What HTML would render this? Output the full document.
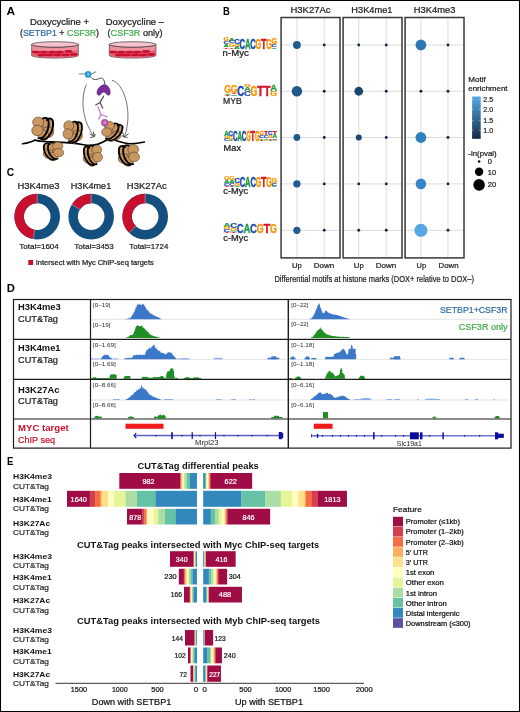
<!DOCTYPE html>
<html><head><meta charset="utf-8"><title>Figure</title>
<style>
html,body{margin:0;padding:0;background:#fff;}
body{width:520px;height:712px;overflow:hidden;font-family:'Liberation Sans', sans-serif;}
svg{display:block;font-family:"Liberation Sans",sans-serif;will-change:transform;}
</style></head><body>
<svg width="520" height="712" viewBox="0 0 520 712">
<rect x="0" y="0" width="520" height="712" fill="#fff"/>
<g id="pA"><text x="6.4" y="14.8" font-size="10.8" font-weight="bold" fill="#000" textLength="8.6" lengthAdjust="spacingAndGlyphs">A</text>
<text x="30" y="25" font-size="9" fill="#1a1a1a" stroke="#1a1a1a" stroke-width="0.22" textLength="59" lengthAdjust="spacingAndGlyphs">Doxycycline +</text>
<text x="20" y="36" font-size="9" fill="#1a1a1a" stroke="#1a1a1a" stroke-width="0.22" textLength="79" lengthAdjust="spacingAndGlyphs">(<tspan fill="#2e6da4" stroke="#2e6da4">SETBP1</tspan> + <tspan fill="#3fae49" stroke="#3fae49">CSF3R</tspan>)</text>
<text x="105.8" y="25" font-size="9" fill="#1a1a1a" stroke="#1a1a1a" stroke-width="0.22" textLength="58.2" lengthAdjust="spacingAndGlyphs">Doxycycline –</text>
<text x="107.6" y="36" font-size="9" fill="#1a1a1a" stroke="#1a1a1a" stroke-width="0.22" textLength="55" lengthAdjust="spacingAndGlyphs">(<tspan fill="#3fae49" stroke="#3fae49">CSF3R</tspan> only)</text>
<path d="M31.70,44.4 L31.70,55.4 A23.3,2.7 0 0 0 78.30,55.4 L78.30,44.4 A23.3,2.7 0 0 1 31.70,44.4 Z" fill="#ee8fa0" stroke="#3a3a3a" stroke-width="0.7"/>
<path d="M32.20,49.6 L32.20,55.3 A22.8,2.5 0 0 0 77.80,55.3 L77.80,49.6 A22.8,2.3 0 0 1 32.20,49.6 Z" fill="#e4617b"/>
<ellipse cx="36.00" cy="52.1" rx="4.1" ry="1.45" fill="#c8102e"/>
<ellipse cx="44.00" cy="52.1" rx="4.1" ry="1.45" fill="#c8102e"/>
<ellipse cx="52.20" cy="52.1" rx="4.1" ry="1.45" fill="#c8102e"/>
<ellipse cx="59.80" cy="52.1" rx="4.1" ry="1.45" fill="#c8102e"/>
<ellipse cx="68.50" cy="51.5" rx="4.1" ry="1.45" fill="#c8102e"/>
<ellipse cx="41.60" cy="54.9" rx="4.1" ry="1.45" fill="#c8102e"/>
<ellipse cx="49.00" cy="54.9" rx="4.1" ry="1.45" fill="#c8102e"/>
<ellipse cx="57.20" cy="54.9" rx="4.1" ry="1.45" fill="#c8102e"/>
<ellipse cx="65.40" cy="54.9" rx="4.1" ry="1.45" fill="#c8102e"/>
<ellipse cx="73.60" cy="54.5" rx="4.1" ry="1.45" fill="#c8102e"/>
<ellipse cx="55" cy="44.4" rx="23.3" ry="2.7" fill="#f6c3cc" stroke="#3a3a3a" stroke-width="0.7"/>
<path d="M109.30,44.4 L109.30,55.4 A23.3,2.7 0 0 0 155.90,55.4 L155.90,44.4 A23.3,2.7 0 0 1 109.30,44.4 Z" fill="#ee8fa0" stroke="#3a3a3a" stroke-width="0.7"/>
<path d="M109.80,49.6 L109.80,55.3 A22.8,2.5 0 0 0 155.40,55.3 L155.40,49.6 A22.8,2.3 0 0 1 109.80,49.6 Z" fill="#e4617b"/>
<ellipse cx="113.60" cy="52.1" rx="4.1" ry="1.45" fill="#c8102e"/>
<ellipse cx="121.60" cy="52.1" rx="4.1" ry="1.45" fill="#c8102e"/>
<ellipse cx="129.80" cy="52.1" rx="4.1" ry="1.45" fill="#c8102e"/>
<ellipse cx="137.40" cy="52.1" rx="4.1" ry="1.45" fill="#c8102e"/>
<ellipse cx="146.10" cy="51.5" rx="4.1" ry="1.45" fill="#c8102e"/>
<ellipse cx="119.20" cy="54.9" rx="4.1" ry="1.45" fill="#c8102e"/>
<ellipse cx="126.60" cy="54.9" rx="4.1" ry="1.45" fill="#c8102e"/>
<ellipse cx="134.80" cy="54.9" rx="4.1" ry="1.45" fill="#c8102e"/>
<ellipse cx="143.00" cy="54.9" rx="4.1" ry="1.45" fill="#c8102e"/>
<ellipse cx="151.20" cy="54.5" rx="4.1" ry="1.45" fill="#c8102e"/>
<ellipse cx="132.6" cy="44.4" rx="23.3" ry="2.7" fill="#f6c3cc" stroke="#3a3a3a" stroke-width="0.7"/>
<path d="M86.5,84.4 C81,96 81,118 93.2,135.2" fill="none" stroke="#3a3a3a" stroke-width="0.7"/>
<path d="M89.6,133.8 L94.2,136.6 L93.4,131.6 M90.2,137.6 L94.2,136.6 L95.4,134" fill="none" stroke="#3a3a3a" stroke-width="0.9"/>
<path d="M111.9,80.3 C124,83 133,112 124.8,135.6" fill="none" stroke="#3a3a3a" stroke-width="0.7"/>
<path d="M122.4,132 L124.3,137 L128.6,133.6 M127.6,137.4 L124.3,137 L121.8,135.6" fill="none" stroke="#3a3a3a" stroke-width="0.9"/>
<path d="M22.5,143.8 C28,143 32,141.8 35,140 C38,141.5 44,141.6 50,141.8 C55,142 60,142.6 66,142.6 C72,142.6 79,144 85,145 C89,145.6 93,145.4 97,144.4 C102,143 106,140.6 110,138 C112,136.6 114,135 115.5,133" fill="none" stroke="#000" stroke-width="1.6" stroke-linecap="round"/>
<path d="M106.5,135 C108,136.6 109,137.4 110,138 C113,139.8 115.5,140.6 118,141.3 C122,142.6 126,143.6 130,143.7 C135,143.8 140,143 144.4,142" fill="none" stroke="#000" stroke-width="1.6" stroke-linecap="round"/>
<g transform="translate(43.49,128.29) scale(1.140,1.071) rotate(0,-0.6,0)">
<circle cx="-0.5" cy="-0.5" r="5.6" fill="#c9975f" stroke="#3e3022" stroke-width="0.5"/>
<circle cx="3.4" cy="-4.6" r="5.0" fill="#c9975f" stroke="#3e3022" stroke-width="0.5"/>
<circle cx="4.0" cy="3.6" r="5.0" fill="#c9975f" stroke="#3e3022" stroke-width="0.5"/>
<circle cx="0.0" cy="6.6" r="4.8" fill="#c9975f" stroke="#3e3022" stroke-width="0.5"/>
<path d="M-1.5,10.2 C4,11.2 9.2,2 8.4,-5.8 C8,-9.6 4.6,-10 3,-7.6" fill="none" stroke="#000" stroke-width="1.7" stroke-linecap="round"/>
<path d="M-4.5,9.2 C1,10.4 5.4,1 4.4,-6.6 C4,-10.2 0,-10.6 -1.4,-8.4" fill="none" stroke="#000" stroke-width="1.7" stroke-linecap="round"/>
<circle cx="-4.6" cy="-5.6" r="4.9" fill="#c9975f" stroke="#3e3022" stroke-width="0.5"/>
<circle cx="-5.4" cy="2.0" r="4.9" fill="#c9975f" stroke="#3e3022" stroke-width="0.5"/>
</g>
<g transform="translate(73.41,131.80) scale(1.010,1.049) rotate(0,-0.6,0)">
<circle cx="-0.5" cy="-0.5" r="5.6" fill="#c9975f" stroke="#3e3022" stroke-width="0.5"/>
<circle cx="3.4" cy="-4.6" r="5.0" fill="#c9975f" stroke="#3e3022" stroke-width="0.5"/>
<circle cx="4.0" cy="3.6" r="5.0" fill="#c9975f" stroke="#3e3022" stroke-width="0.5"/>
<circle cx="0.0" cy="6.6" r="4.8" fill="#c9975f" stroke="#3e3022" stroke-width="0.5"/>
<path d="M-1.5,10.2 C4,11.2 9.2,2 8.4,-5.8 C8,-9.6 4.6,-10 3,-7.6" fill="none" stroke="#000" stroke-width="1.7" stroke-linecap="round"/>
<path d="M-4.5,9.2 C1,10.4 5.4,1 4.4,-6.6 C4,-10.2 0,-10.6 -1.4,-8.4" fill="none" stroke="#000" stroke-width="1.7" stroke-linecap="round"/>
<circle cx="-4.6" cy="-5.6" r="4.9" fill="#c9975f" stroke="#3e3022" stroke-width="0.5"/>
<circle cx="-5.4" cy="2.0" r="4.9" fill="#c9975f" stroke="#3e3022" stroke-width="0.5"/>
</g>
<g transform="translate(52.81,150.94) scale(-1.062,0.861) rotate(0,-0.6,0)">
<circle cx="-0.5" cy="-0.5" r="5.6" fill="#c9975f" stroke="#3e3022" stroke-width="0.5"/>
<circle cx="3.4" cy="-4.6" r="5.0" fill="#c9975f" stroke="#3e3022" stroke-width="0.5"/>
<circle cx="4.0" cy="3.6" r="5.0" fill="#c9975f" stroke="#3e3022" stroke-width="0.5"/>
<circle cx="0.0" cy="6.6" r="4.8" fill="#c9975f" stroke="#3e3022" stroke-width="0.5"/>
<path d="M-1.5,10.2 C4,11.2 9.2,2 8.4,-5.8 C8,-9.6 4.6,-10 3,-7.6" fill="none" stroke="#000" stroke-width="1.7" stroke-linecap="round"/>
<path d="M-4.5,9.2 C1,10.4 5.4,1 4.4,-6.6 C4,-10.2 0,-10.6 -1.4,-8.4" fill="none" stroke="#000" stroke-width="1.7" stroke-linecap="round"/>
<circle cx="-4.6" cy="-5.6" r="4.9" fill="#c9975f" stroke="#3e3022" stroke-width="0.5"/>
<circle cx="-5.4" cy="2.0" r="4.9" fill="#c9975f" stroke="#3e3022" stroke-width="0.5"/>
</g>
<g transform="translate(92.23,155.18) scale(-0.997,0.971) rotate(0,-0.6,0)">
<circle cx="-0.5" cy="-0.5" r="5.6" fill="#c9975f" stroke="#3e3022" stroke-width="0.5"/>
<circle cx="3.4" cy="-4.6" r="5.0" fill="#c9975f" stroke="#3e3022" stroke-width="0.5"/>
<circle cx="4.0" cy="3.6" r="5.0" fill="#c9975f" stroke="#3e3022" stroke-width="0.5"/>
<circle cx="0.0" cy="6.6" r="4.8" fill="#c9975f" stroke="#3e3022" stroke-width="0.5"/>
<path d="M-1.5,10.2 C4,11.2 9.2,2 8.4,-5.8 C8,-9.6 4.6,-10 3,-7.6" fill="none" stroke="#000" stroke-width="1.7" stroke-linecap="round"/>
<path d="M-4.5,9.2 C1,10.4 5.4,1 4.4,-6.6 C4,-10.2 0,-10.6 -1.4,-8.4" fill="none" stroke="#000" stroke-width="1.7" stroke-linecap="round"/>
<circle cx="-4.6" cy="-5.6" r="4.9" fill="#c9975f" stroke="#3e3022" stroke-width="0.5"/>
<circle cx="-5.4" cy="2.0" r="4.9" fill="#c9975f" stroke="#3e3022" stroke-width="0.5"/>
</g>
<g transform="translate(112.67,131.43) scale(1.036,0.883) rotate(14,-0.6,0)">
<circle cx="-0.5" cy="-0.5" r="5.6" fill="#c9975f" stroke="#3e3022" stroke-width="0.5"/>
<circle cx="3.4" cy="-4.6" r="5.0" fill="#c9975f" stroke="#3e3022" stroke-width="0.5"/>
<circle cx="4.0" cy="3.6" r="5.0" fill="#c9975f" stroke="#3e3022" stroke-width="0.5"/>
<circle cx="0.0" cy="6.6" r="4.8" fill="#c9975f" stroke="#3e3022" stroke-width="0.5"/>
<path d="M-1.5,10.2 C4,11.2 9.2,2 8.4,-5.8 C8,-9.6 4.6,-10 3,-7.6" fill="none" stroke="#000" stroke-width="1.7" stroke-linecap="round"/>
<path d="M-4.5,9.2 C1,10.4 5.4,1 4.4,-6.6 C4,-10.2 0,-10.6 -1.4,-8.4" fill="none" stroke="#000" stroke-width="1.7" stroke-linecap="round"/>
<circle cx="-4.6" cy="-5.6" r="4.9" fill="#c9975f" stroke="#3e3022" stroke-width="0.5"/>
<circle cx="-5.4" cy="2.0" r="4.9" fill="#c9975f" stroke="#3e3022" stroke-width="0.5"/>
</g>
<g transform="translate(128.16,154.93) scale(-1.101,0.993) rotate(0,-0.6,0)">
<circle cx="-0.5" cy="-0.5" r="5.6" fill="#c9975f" stroke="#3e3022" stroke-width="0.5"/>
<circle cx="3.4" cy="-4.6" r="5.0" fill="#c9975f" stroke="#3e3022" stroke-width="0.5"/>
<circle cx="4.0" cy="3.6" r="5.0" fill="#c9975f" stroke="#3e3022" stroke-width="0.5"/>
<circle cx="0.0" cy="6.6" r="4.8" fill="#c9975f" stroke="#3e3022" stroke-width="0.5"/>
<path d="M-1.5,10.2 C4,11.2 9.2,2 8.4,-5.8 C8,-9.6 4.6,-10 3,-7.6" fill="none" stroke="#000" stroke-width="1.7" stroke-linecap="round"/>
<path d="M-4.5,9.2 C1,10.4 5.4,1 4.4,-6.6 C4,-10.2 0,-10.6 -1.4,-8.4" fill="none" stroke="#000" stroke-width="1.7" stroke-linecap="round"/>
<circle cx="-4.6" cy="-5.6" r="4.9" fill="#c9975f" stroke="#3e3022" stroke-width="0.5"/>
<circle cx="-5.4" cy="2.0" r="4.9" fill="#c9975f" stroke="#3e3022" stroke-width="0.5"/>
</g>
<path d="M78.8,73.8 L85,73.9 M91,74.2 L96.3,71.6" stroke="#9a9a9a" stroke-width="1.2" fill="none"/>
<circle cx="88.1" cy="74.4" r="3.1" fill="#2a9bd6" stroke="#1b78ad" stroke-width="0.4"/>
<circle cx="88.3" cy="74.2" r="1.2" fill="#7cc8ee"/>
<path d="M90.6,76.9 C92.5,79.5 95,80 97.5,79.2 C100,78.3 102.5,77.2 103.6,79.5 C104.4,81 104.6,82.5 104.75,84" fill="none" stroke="#222" stroke-width="0.8"/>
<path d="M104.6,84.6 C100.5,85.2 97,89 97,92.8 C97,95.6 99.4,95.8 100.6,94.4 C101.6,93.2 102.4,92 103.6,92 C104.8,92 105.8,93.2 106.8,94.4 C108,95.8 110.2,95.4 110.2,92.6 C110.2,88.6 108,85.2 104.6,84.6 Z" fill="#7a2c9c" stroke="#3c1450" stroke-width="0.5"/>
<path d="M103.5,96.3 L100,102.5 L95.7,105 M100,102.5 L102.7,108" fill="none" stroke="#5a5a5a" stroke-width="1.4" stroke-linecap="round"/>
<path d="M98.1,107 L100.9,114.4 L98.8,119 M100.9,114.4 L107.2,116.9" fill="none" stroke="#c48fd2" stroke-width="1.5" stroke-linecap="round"/>
<circle cx="104.75" cy="122.75" r="3.4" fill="#c25fb2" stroke="#7d2f74" stroke-width="0.55"/>
<circle cx="104.9" cy="122.6" r="1.4" fill="#d786cb"/></g>
<g id="pB"><text x="223" y="14.6" font-size="10.5" font-weight="bold" fill="#000" textLength="6.8" lengthAdjust="spacingAndGlyphs">B</text>
<text x="290.5" y="13" font-size="8.7" fill="#1a1a1a" stroke="#1a1a1a" stroke-width="0.22" textLength="40" lengthAdjust="spacingAndGlyphs">H3K27Ac</text>
<line x1="296.9" y1="17.5" x2="296.9" y2="257.9" stroke="#d6d6d6" stroke-width="0.85"/>
<line x1="324.25" y1="17.5" x2="324.25" y2="257.9" stroke="#d6d6d6" stroke-width="0.85"/>
<line x1="281.1" y1="45" x2="340.0" y2="45" stroke="#d6d6d6" stroke-width="0.85"/>
<line x1="281.1" y1="91.25" x2="340.0" y2="91.25" stroke="#d6d6d6" stroke-width="0.85"/>
<line x1="281.1" y1="137.5" x2="340.0" y2="137.5" stroke="#d6d6d6" stroke-width="0.85"/>
<line x1="281.1" y1="183.9" x2="340.0" y2="183.9" stroke="#d6d6d6" stroke-width="0.85"/>
<line x1="281.1" y1="230.3" x2="340.0" y2="230.3" stroke="#d6d6d6" stroke-width="0.85"/>
<circle cx="296.9" cy="45" r="3.9" fill="#21598c"/>
<circle cx="324.25" cy="45" r="1.45" fill="#0f2747"/>
<circle cx="296.9" cy="91.25" r="5.2" fill="#21588b"/>
<circle cx="324.25" cy="91.25" r="1.45" fill="#0f2747"/>
<circle cx="296.9" cy="137.5" r="3.4" fill="#21598c"/>
<circle cx="324.25" cy="137.5" r="1.45" fill="#0f2747"/>
<circle cx="296.9" cy="183.9" r="3.6" fill="#22598c"/>
<circle cx="324.25" cy="183.9" r="1.45" fill="#0f2747"/>
<circle cx="296.9" cy="230.3" r="3.6" fill="#235b8e"/>
<circle cx="324.25" cy="230.3" r="1.45" fill="#0f2747"/>
<rect x="281.1" y="17.5" width="58.90" height="240.39999999999998" fill="none" stroke="#383838" stroke-width="1.5"/>
<text x="351.3" y="13" font-size="8.7" fill="#1a1a1a" stroke="#1a1a1a" stroke-width="0.22" textLength="41.2" lengthAdjust="spacingAndGlyphs">H3K4me1</text>
<line x1="358.75" y1="17.5" x2="358.75" y2="257.9" stroke="#d6d6d6" stroke-width="0.85"/>
<line x1="386.25" y1="17.5" x2="386.25" y2="257.9" stroke="#d6d6d6" stroke-width="0.85"/>
<line x1="343.1" y1="45" x2="402.0" y2="45" stroke="#d6d6d6" stroke-width="0.85"/>
<line x1="343.1" y1="91.25" x2="402.0" y2="91.25" stroke="#d6d6d6" stroke-width="0.85"/>
<line x1="343.1" y1="137.5" x2="402.0" y2="137.5" stroke="#d6d6d6" stroke-width="0.85"/>
<line x1="343.1" y1="183.9" x2="402.0" y2="183.9" stroke="#d6d6d6" stroke-width="0.85"/>
<line x1="343.1" y1="230.3" x2="402.0" y2="230.3" stroke="#d6d6d6" stroke-width="0.85"/>
<circle cx="358.75" cy="45" r="1.45" fill="#0f2747"/>
<circle cx="386.25" cy="45" r="1.45" fill="#0f2747"/>
<circle cx="358.75" cy="91.25" r="4.4" fill="#1a456e"/>
<circle cx="386.25" cy="91.25" r="1.45" fill="#0f2747"/>
<circle cx="358.75" cy="137.5" r="3.0" fill="#1a456e"/>
<circle cx="386.25" cy="137.5" r="1.45" fill="#0f2747"/>
<circle cx="358.75" cy="183.9" r="1.45" fill="#0f2747"/>
<circle cx="386.25" cy="183.9" r="1.45" fill="#0f2747"/>
<circle cx="358.75" cy="230.3" r="1.45" fill="#0f2747"/>
<circle cx="386.25" cy="230.3" r="1.45" fill="#0f2747"/>
<rect x="343.1" y="17.5" width="58.90" height="240.39999999999998" fill="none" stroke="#383838" stroke-width="1.5"/>
<text x="413.8" y="13" font-size="8.7" fill="#1a1a1a" stroke="#1a1a1a" stroke-width="0.22" textLength="41.7" lengthAdjust="spacingAndGlyphs">H3K4me3</text>
<line x1="420.9" y1="17.5" x2="420.9" y2="257.9" stroke="#d6d6d6" stroke-width="0.85"/>
<line x1="448" y1="17.5" x2="448" y2="257.9" stroke="#d6d6d6" stroke-width="0.85"/>
<line x1="405.1" y1="45" x2="464.0" y2="45" stroke="#d6d6d6" stroke-width="0.85"/>
<line x1="405.1" y1="91.25" x2="464.0" y2="91.25" stroke="#d6d6d6" stroke-width="0.85"/>
<line x1="405.1" y1="137.5" x2="464.0" y2="137.5" stroke="#d6d6d6" stroke-width="0.85"/>
<line x1="405.1" y1="183.9" x2="464.0" y2="183.9" stroke="#d6d6d6" stroke-width="0.85"/>
<line x1="405.1" y1="230.3" x2="464.0" y2="230.3" stroke="#d6d6d6" stroke-width="0.85"/>
<circle cx="420.9" cy="45" r="5.4" fill="#2d78b4"/>
<circle cx="448" cy="45" r="1.45" fill="#0f2747"/>
<circle cx="420.9" cy="91.25" r="1.45" fill="#0f2747"/>
<circle cx="448" cy="91.25" r="1.45" fill="#0f2747"/>
<circle cx="420.9" cy="137.5" r="5.4" fill="#3180bf"/>
<circle cx="448" cy="137.5" r="1.45" fill="#0f2747"/>
<circle cx="420.9" cy="183.9" r="5.3" fill="#3686c8"/>
<circle cx="448" cy="183.9" r="1.45" fill="#0f2747"/>
<circle cx="420.9" cy="230.3" r="6.5" fill="#56a7e6"/>
<circle cx="448" cy="230.3" r="1.45" fill="#0f2747"/>
<rect x="405.1" y="17.5" width="58.90" height="240.39999999999998" fill="none" stroke="#383838" stroke-width="1.5"/>
<text x="292" y="267.6" font-size="7.8" fill="#1a1a1a" stroke="#1a1a1a" stroke-width="0.22" textLength="9.8" lengthAdjust="spacingAndGlyphs">Up</text>
<text x="313.8" y="267.6" font-size="7.8" fill="#1a1a1a" stroke="#1a1a1a" stroke-width="0.22" textLength="20.5" lengthAdjust="spacingAndGlyphs">Down</text>
<text x="353.8" y="267.6" font-size="7.8" fill="#1a1a1a" stroke="#1a1a1a" stroke-width="0.22" textLength="10" lengthAdjust="spacingAndGlyphs">Up</text>
<text x="375.8" y="267.6" font-size="7.8" fill="#1a1a1a" stroke="#1a1a1a" stroke-width="0.22" textLength="20.5" lengthAdjust="spacingAndGlyphs">Down</text>
<text x="416.5" y="267.6" font-size="7.8" fill="#1a1a1a" stroke="#1a1a1a" stroke-width="0.22" textLength="9.6" lengthAdjust="spacingAndGlyphs">Up</text>
<text x="438.5" y="267.6" font-size="7.8" fill="#1a1a1a" stroke="#1a1a1a" stroke-width="0.22" textLength="20" lengthAdjust="spacingAndGlyphs">Down</text>
<text x="274.4" y="282" font-size="9.2" fill="#222" stroke="#222" stroke-width="0.22" textLength="199.6" lengthAdjust="spacingAndGlyphs">Differential motifs at histone marks (DOX+ relative to DOX–)</text>
<text transform="translate(226.36,41.48) scale(0.712,0.451)" font-size="10.0" font-weight="bold" text-anchor="middle" fill="#f39a0b" stroke="#f39a0b" stroke-width="0.45" stroke-linejoin="round" vector-effect="none">G</text>
<text transform="translate(226.36,43.89) scale(0.768,0.330)" font-size="10.0" font-weight="bold" text-anchor="middle" fill="#1f4fb4" stroke="#1f4fb4" stroke-width="0.42" stroke-linejoin="round" vector-effect="none">C</text>
<text transform="translate(226.36,46.96) scale(0.768,0.420)" font-size="10.0" font-weight="bold" text-anchor="middle" fill="#1e9e3c" stroke="#1e9e3c" stroke-width="0.42" stroke-linejoin="round" vector-effect="none">A</text>
<text transform="translate(226.36,48.60) scale(0.907,0.225)" font-size="10.0" font-weight="bold" text-anchor="middle" fill="#d8142a" stroke="#d8142a" stroke-width="0.35" stroke-linejoin="round" vector-effect="none">T</text>
<text transform="translate(231.69,40.74) scale(0.768,0.349)" font-size="10.0" font-weight="bold" text-anchor="middle" fill="#1e9e3c" stroke="#1e9e3c" stroke-width="0.42" stroke-linejoin="round" vector-effect="none">A</text>
<text transform="translate(231.69,43.28) scale(0.768,0.349)" font-size="10.0" font-weight="bold" text-anchor="middle" fill="#1f4fb4" stroke="#1f4fb4" stroke-width="0.42" stroke-linejoin="round" vector-effect="none">C</text>
<text transform="translate(231.69,46.98) scale(0.712,0.507)" font-size="10.0" font-weight="bold" text-anchor="middle" fill="#f39a0b" stroke="#f39a0b" stroke-width="0.45" stroke-linejoin="round" vector-effect="none">G</text>
<text transform="translate(231.69,48.60) scale(0.907,0.222)" font-size="10.0" font-weight="bold" text-anchor="middle" fill="#d8142a" stroke="#d8142a" stroke-width="0.35" stroke-linejoin="round" vector-effect="none">T</text>
<text transform="translate(237.02,43.67) scale(0.768,0.751)" font-size="10.0" font-weight="bold" text-anchor="middle" fill="#1f4fb4" stroke="#1f4fb4" stroke-width="0.42" stroke-linejoin="round" vector-effect="none">C</text>
<text transform="translate(237.02,46.74) scale(0.712,0.420)" font-size="10.0" font-weight="bold" text-anchor="middle" fill="#f39a0b" stroke="#f39a0b" stroke-width="0.45" stroke-linejoin="round" vector-effect="none">G</text>
<text transform="translate(237.02,48.60) scale(0.768,0.255)" font-size="10.0" font-weight="bold" text-anchor="middle" fill="#1e9e3c" stroke="#1e9e3c" stroke-width="0.42" stroke-linejoin="round" vector-effect="none">A</text>
<text transform="translate(242.35,48.60) scale(0.768,1.427)" font-size="10.0" font-weight="bold" text-anchor="middle" fill="#1f4fb4" stroke="#1f4fb4" stroke-width="0.42" stroke-linejoin="round" vector-effect="none">C</text>
<text transform="translate(247.68,48.60) scale(0.768,1.427)" font-size="10.0" font-weight="bold" text-anchor="middle" fill="#1e9e3c" stroke="#1e9e3c" stroke-width="0.42" stroke-linejoin="round" vector-effect="none">A</text>
<text transform="translate(253.01,48.60) scale(0.768,1.427)" font-size="10.0" font-weight="bold" text-anchor="middle" fill="#1f4fb4" stroke="#1f4fb4" stroke-width="0.42" stroke-linejoin="round" vector-effect="none">C</text>
<text transform="translate(258.35,48.60) scale(0.712,1.427)" font-size="10.0" font-weight="bold" text-anchor="middle" fill="#f39a0b" stroke="#f39a0b" stroke-width="0.45" stroke-linejoin="round" vector-effect="none">G</text>
<text transform="translate(263.68,48.60) scale(0.907,1.427)" font-size="10.0" font-weight="bold" text-anchor="middle" fill="#d8142a" stroke="#d8142a" stroke-width="0.35" stroke-linejoin="round" vector-effect="none">T</text>
<text transform="translate(269.00,48.60) scale(0.712,1.427)" font-size="10.0" font-weight="bold" text-anchor="middle" fill="#f39a0b" stroke="#f39a0b" stroke-width="0.45" stroke-linejoin="round" vector-effect="none">G</text>
<text transform="translate(274.34,44.35) scale(0.712,0.844)" font-size="10.0" font-weight="bold" text-anchor="middle" fill="#f39a0b" stroke="#f39a0b" stroke-width="0.45" stroke-linejoin="round" vector-effect="none">G</text>
<text transform="translate(274.34,46.81) scale(0.768,0.337)" font-size="10.0" font-weight="bold" text-anchor="middle" fill="#1f4fb4" stroke="#1f4fb4" stroke-width="0.42" stroke-linejoin="round" vector-effect="none">C</text>
<text transform="translate(274.34,48.60) scale(0.768,0.245)" font-size="10.0" font-weight="bold" text-anchor="middle" fill="#1e9e3c" stroke="#1e9e3c" stroke-width="0.42" stroke-linejoin="round" vector-effect="none">A</text>
<text x="222.6" y="56.2" font-size="8.6" fill="#1a1a1a" stroke="#1a1a1a" stroke-width="0.22" textLength="26.2" lengthAdjust="spacingAndGlyphs">n-Myc</text>
<text transform="translate(227.59,93.16) scale(0.881,1.174)" font-size="10.0" font-weight="bold" text-anchor="middle" fill="#f39a0b" stroke="#f39a0b" stroke-width="0.36" stroke-linejoin="round" vector-effect="none">G</text>
<text transform="translate(227.59,94.62) scale(0.949,0.201)" font-size="10.0" font-weight="bold" text-anchor="middle" fill="#1e9e3c" stroke="#1e9e3c" stroke-width="0.34" stroke-linejoin="round" vector-effect="none">A</text>
<text transform="translate(227.59,95.60) scale(1.121,0.134)" font-size="10.0" font-weight="bold" text-anchor="middle" fill="#d8142a" stroke="#d8142a" stroke-width="0.29" stroke-linejoin="round" vector-effect="none">T</text>
<text transform="translate(234.18,92.65) scale(0.881,1.104)" font-size="10.0" font-weight="bold" text-anchor="middle" fill="#f39a0b" stroke="#f39a0b" stroke-width="0.36" stroke-linejoin="round" vector-effect="none">G</text>
<text transform="translate(234.18,94.26) scale(1.121,0.221)" font-size="10.0" font-weight="bold" text-anchor="middle" fill="#d8142a" stroke="#d8142a" stroke-width="0.29" stroke-linejoin="round" vector-effect="none">T</text>
<text transform="translate(234.18,95.60) scale(0.949,0.184)" font-size="10.0" font-weight="bold" text-anchor="middle" fill="#1e9e3c" stroke="#1e9e3c" stroke-width="0.34" stroke-linejoin="round" vector-effect="none">A</text>
<text transform="translate(240.77,95.60) scale(0.949,1.509)" font-size="10.0" font-weight="bold" text-anchor="middle" fill="#1f4fb4" stroke="#1f4fb4" stroke-width="0.34" stroke-linejoin="round" vector-effect="none">C</text>
<text transform="translate(247.36,87.49) scale(0.881,0.397)" font-size="10.0" font-weight="bold" text-anchor="middle" fill="#f39a0b" stroke="#f39a0b" stroke-width="0.36" stroke-linejoin="round" vector-effect="none">G</text>
<text transform="translate(247.36,90.97) scale(0.949,0.476)" font-size="10.0" font-weight="bold" text-anchor="middle" fill="#1e9e3c" stroke="#1e9e3c" stroke-width="0.34" stroke-linejoin="round" vector-effect="none">A</text>
<text transform="translate(247.36,95.60) scale(0.949,0.635)" font-size="10.0" font-weight="bold" text-anchor="middle" fill="#1f4fb4" stroke="#1f4fb4" stroke-width="0.34" stroke-linejoin="round" vector-effect="none">C</text>
<text transform="translate(253.94,95.60) scale(0.881,1.509)" font-size="10.0" font-weight="bold" text-anchor="middle" fill="#f39a0b" stroke="#f39a0b" stroke-width="0.36" stroke-linejoin="round" vector-effect="none">G</text>
<text transform="translate(260.53,95.60) scale(1.121,1.509)" font-size="10.0" font-weight="bold" text-anchor="middle" fill="#d8142a" stroke="#d8142a" stroke-width="0.29" stroke-linejoin="round" vector-effect="none">T</text>
<text transform="translate(267.12,95.60) scale(1.121,1.509)" font-size="10.0" font-weight="bold" text-anchor="middle" fill="#d8142a" stroke="#d8142a" stroke-width="0.29" stroke-linejoin="round" vector-effect="none">T</text>
<text transform="translate(273.71,90.58) scale(0.949,0.820)" font-size="10.0" font-weight="bold" text-anchor="middle" fill="#1e9e3c" stroke="#1e9e3c" stroke-width="0.34" stroke-linejoin="round" vector-effect="none">A</text>
<text transform="translate(273.71,95.60) scale(0.881,0.689)" font-size="10.0" font-weight="bold" text-anchor="middle" fill="#f39a0b" stroke="#f39a0b" stroke-width="0.36" stroke-linejoin="round" vector-effect="none">G</text>
<text x="223" y="104" font-size="9.2" fill="#1a1a1a" stroke="#1a1a1a" stroke-width="0.22" textLength="18.8" lengthAdjust="spacingAndGlyphs">MYB</text>
<text transform="translate(226.50,135.95) scale(0.633,0.652)" font-size="10.0" font-weight="bold" text-anchor="middle" fill="#1e9e3c" stroke="#1e9e3c" stroke-width="0.51" stroke-linejoin="round" vector-effect="none">A</text>
<text transform="translate(226.50,138.92) scale(0.587,0.407)" font-size="10.0" font-weight="bold" text-anchor="middle" fill="#f39a0b" stroke="#f39a0b" stroke-width="0.55" stroke-linejoin="round" vector-effect="none">G</text>
<text transform="translate(226.50,141.30) scale(0.633,0.326)" font-size="10.0" font-weight="bold" text-anchor="middle" fill="#1f4fb4" stroke="#1f4fb4" stroke-width="0.51" stroke-linejoin="round" vector-effect="none">C</text>
<text transform="translate(230.89,135.95) scale(0.633,0.652)" font-size="10.0" font-weight="bold" text-anchor="middle" fill="#1f4fb4" stroke="#1f4fb4" stroke-width="0.51" stroke-linejoin="round" vector-effect="none">C</text>
<text transform="translate(230.89,139.52) scale(0.587,0.489)" font-size="10.0" font-weight="bold" text-anchor="middle" fill="#f39a0b" stroke="#f39a0b" stroke-width="0.55" stroke-linejoin="round" vector-effect="none">G</text>
<text transform="translate(230.89,141.30) scale(0.633,0.244)" font-size="10.0" font-weight="bold" text-anchor="middle" fill="#1e9e3c" stroke="#1e9e3c" stroke-width="0.51" stroke-linejoin="round" vector-effect="none">A</text>
<text transform="translate(235.28,141.30) scale(0.633,1.385)" font-size="10.0" font-weight="bold" text-anchor="middle" fill="#1f4fb4" stroke="#1f4fb4" stroke-width="0.51" stroke-linejoin="round" vector-effect="none">C</text>
<text transform="translate(239.67,141.30) scale(0.633,1.385)" font-size="10.0" font-weight="bold" text-anchor="middle" fill="#1e9e3c" stroke="#1e9e3c" stroke-width="0.51" stroke-linejoin="round" vector-effect="none">A</text>
<text transform="translate(244.06,141.30) scale(0.633,1.385)" font-size="10.0" font-weight="bold" text-anchor="middle" fill="#1f4fb4" stroke="#1f4fb4" stroke-width="0.51" stroke-linejoin="round" vector-effect="none">C</text>
<text transform="translate(248.45,141.30) scale(0.587,1.385)" font-size="10.0" font-weight="bold" text-anchor="middle" fill="#f39a0b" stroke="#f39a0b" stroke-width="0.55" stroke-linejoin="round" vector-effect="none">G</text>
<text transform="translate(252.85,141.30) scale(0.748,1.385)" font-size="10.0" font-weight="bold" text-anchor="middle" fill="#d8142a" stroke="#d8142a" stroke-width="0.43" stroke-linejoin="round" vector-effect="none">T</text>
<text transform="translate(257.24,141.30) scale(0.587,1.385)" font-size="10.0" font-weight="bold" text-anchor="middle" fill="#f39a0b" stroke="#f39a0b" stroke-width="0.55" stroke-linejoin="round" vector-effect="none">G</text>
<text transform="translate(261.63,135.26) scale(0.587,0.557)" font-size="10.0" font-weight="bold" text-anchor="middle" fill="#f39a0b" stroke="#f39a0b" stroke-width="0.55" stroke-linejoin="round" vector-effect="none">G</text>
<text transform="translate(261.63,138.17) scale(0.633,0.398)" font-size="10.0" font-weight="bold" text-anchor="middle" fill="#1f4fb4" stroke="#1f4fb4" stroke-width="0.51" stroke-linejoin="round" vector-effect="none">C</text>
<text transform="translate(261.63,139.91) scale(0.633,0.239)" font-size="10.0" font-weight="bold" text-anchor="middle" fill="#1e9e3c" stroke="#1e9e3c" stroke-width="0.51" stroke-linejoin="round" vector-effect="none">A</text>
<text transform="translate(261.63,141.30) scale(0.748,0.191)" font-size="10.0" font-weight="bold" text-anchor="middle" fill="#d8142a" stroke="#d8142a" stroke-width="0.43" stroke-linejoin="round" vector-effect="none">T</text>
<text transform="translate(266.02,135.26) scale(0.748,0.557)" font-size="10.0" font-weight="bold" text-anchor="middle" fill="#d8142a" stroke="#d8142a" stroke-width="0.43" stroke-linejoin="round" vector-effect="none">T</text>
<text transform="translate(266.02,138.17) scale(0.633,0.398)" font-size="10.0" font-weight="bold" text-anchor="middle" fill="#1f4fb4" stroke="#1f4fb4" stroke-width="0.51" stroke-linejoin="round" vector-effect="none">C</text>
<text transform="translate(266.02,139.91) scale(0.633,0.239)" font-size="10.0" font-weight="bold" text-anchor="middle" fill="#1e9e3c" stroke="#1e9e3c" stroke-width="0.51" stroke-linejoin="round" vector-effect="none">A</text>
<text transform="translate(266.02,141.30) scale(0.587,0.191)" font-size="10.0" font-weight="bold" text-anchor="middle" fill="#f39a0b" stroke="#f39a0b" stroke-width="0.55" stroke-linejoin="round" vector-effect="none">G</text>
<text transform="translate(270.41,135.26) scale(0.633,0.557)" font-size="10.0" font-weight="bold" text-anchor="middle" fill="#1f4fb4" stroke="#1f4fb4" stroke-width="0.51" stroke-linejoin="round" vector-effect="none">C</text>
<text transform="translate(270.41,138.17) scale(0.587,0.398)" font-size="10.0" font-weight="bold" text-anchor="middle" fill="#f39a0b" stroke="#f39a0b" stroke-width="0.55" stroke-linejoin="round" vector-effect="none">G</text>
<text transform="translate(270.41,139.91) scale(0.748,0.239)" font-size="10.0" font-weight="bold" text-anchor="middle" fill="#d8142a" stroke="#d8142a" stroke-width="0.43" stroke-linejoin="round" vector-effect="none">T</text>
<text transform="translate(270.41,141.30) scale(0.633,0.191)" font-size="10.0" font-weight="bold" text-anchor="middle" fill="#1e9e3c" stroke="#1e9e3c" stroke-width="0.51" stroke-linejoin="round" vector-effect="none">A</text>
<text transform="translate(274.80,135.13) scale(0.748,0.539)" font-size="10.0" font-weight="bold" text-anchor="middle" fill="#d8142a" stroke="#d8142a" stroke-width="0.43" stroke-linejoin="round" vector-effect="none">T</text>
<text transform="translate(274.80,138.49) scale(0.633,0.462)" font-size="10.0" font-weight="bold" text-anchor="middle" fill="#1e9e3c" stroke="#1e9e3c" stroke-width="0.51" stroke-linejoin="round" vector-effect="none">A</text>
<text transform="translate(274.80,140.18) scale(0.633,0.231)" font-size="10.0" font-weight="bold" text-anchor="middle" fill="#1f4fb4" stroke="#1f4fb4" stroke-width="0.51" stroke-linejoin="round" vector-effect="none">C</text>
<text transform="translate(274.80,141.30) scale(0.587,0.154)" font-size="10.0" font-weight="bold" text-anchor="middle" fill="#f39a0b" stroke="#f39a0b" stroke-width="0.55" stroke-linejoin="round" vector-effect="none">G</text>
<text x="223.6" y="150.9" font-size="8.6" fill="#1a1a1a" stroke="#1a1a1a" stroke-width="0.22" textLength="17.4" lengthAdjust="spacingAndGlyphs">Max</text>
<text transform="translate(226.65,180.46) scale(0.708,0.447)" font-size="10.0" font-weight="bold" text-anchor="middle" fill="#f39a0b" stroke="#f39a0b" stroke-width="0.45" stroke-linejoin="round" vector-effect="none">G</text>
<text transform="translate(226.65,183.18) scale(0.763,0.373)" font-size="10.0" font-weight="bold" text-anchor="middle" fill="#1e9e3c" stroke="#1e9e3c" stroke-width="0.42" stroke-linejoin="round" vector-effect="none">A</text>
<text transform="translate(226.65,185.57) scale(0.763,0.328)" font-size="10.0" font-weight="bold" text-anchor="middle" fill="#1f4fb4" stroke="#1f4fb4" stroke-width="0.42" stroke-linejoin="round" vector-effect="none">C</text>
<text transform="translate(226.65,187.20) scale(0.902,0.224)" font-size="10.0" font-weight="bold" text-anchor="middle" fill="#d8142a" stroke="#d8142a" stroke-width="0.35" stroke-linejoin="round" vector-effect="none">T</text>
<text transform="translate(231.95,180.46) scale(0.708,0.447)" font-size="10.0" font-weight="bold" text-anchor="middle" fill="#f39a0b" stroke="#f39a0b" stroke-width="0.45" stroke-linejoin="round" vector-effect="none">G</text>
<text transform="translate(231.95,183.18) scale(0.763,0.373)" font-size="10.0" font-weight="bold" text-anchor="middle" fill="#1e9e3c" stroke="#1e9e3c" stroke-width="0.42" stroke-linejoin="round" vector-effect="none">A</text>
<text transform="translate(231.95,185.57) scale(0.763,0.328)" font-size="10.0" font-weight="bold" text-anchor="middle" fill="#1f4fb4" stroke="#1f4fb4" stroke-width="0.42" stroke-linejoin="round" vector-effect="none">C</text>
<text transform="translate(231.95,187.20) scale(0.902,0.224)" font-size="10.0" font-weight="bold" text-anchor="middle" fill="#d8142a" stroke="#d8142a" stroke-width="0.35" stroke-linejoin="round" vector-effect="none">T</text>
<text transform="translate(237.25,182.58) scale(0.763,0.737)" font-size="10.0" font-weight="bold" text-anchor="middle" fill="#1f4fb4" stroke="#1f4fb4" stroke-width="0.42" stroke-linejoin="round" vector-effect="none">C</text>
<text transform="translate(237.25,185.59) scale(0.708,0.413)" font-size="10.0" font-weight="bold" text-anchor="middle" fill="#f39a0b" stroke="#f39a0b" stroke-width="0.45" stroke-linejoin="round" vector-effect="none">G</text>
<text transform="translate(237.25,187.20) scale(0.763,0.221)" font-size="10.0" font-weight="bold" text-anchor="middle" fill="#1e9e3c" stroke="#1e9e3c" stroke-width="0.42" stroke-linejoin="round" vector-effect="none">A</text>
<text transform="translate(242.55,187.20) scale(0.763,1.372)" font-size="10.0" font-weight="bold" text-anchor="middle" fill="#1f4fb4" stroke="#1f4fb4" stroke-width="0.42" stroke-linejoin="round" vector-effect="none">C</text>
<text transform="translate(247.85,187.20) scale(0.763,1.372)" font-size="10.0" font-weight="bold" text-anchor="middle" fill="#1e9e3c" stroke="#1e9e3c" stroke-width="0.42" stroke-linejoin="round" vector-effect="none">A</text>
<text transform="translate(253.15,187.20) scale(0.763,1.372)" font-size="10.0" font-weight="bold" text-anchor="middle" fill="#1f4fb4" stroke="#1f4fb4" stroke-width="0.42" stroke-linejoin="round" vector-effect="none">C</text>
<text transform="translate(258.45,187.20) scale(0.708,1.372)" font-size="10.0" font-weight="bold" text-anchor="middle" fill="#f39a0b" stroke="#f39a0b" stroke-width="0.45" stroke-linejoin="round" vector-effect="none">G</text>
<text transform="translate(263.75,187.20) scale(0.902,1.372)" font-size="10.0" font-weight="bold" text-anchor="middle" fill="#d8142a" stroke="#d8142a" stroke-width="0.35" stroke-linejoin="round" vector-effect="none">T</text>
<text transform="translate(269.05,187.20) scale(0.708,1.372)" font-size="10.0" font-weight="bold" text-anchor="middle" fill="#f39a0b" stroke="#f39a0b" stroke-width="0.45" stroke-linejoin="round" vector-effect="none">G</text>
<text transform="translate(274.35,182.88) scale(0.708,0.779)" font-size="10.0" font-weight="bold" text-anchor="middle" fill="#f39a0b" stroke="#f39a0b" stroke-width="0.45" stroke-linejoin="round" vector-effect="none">G</text>
<text transform="translate(274.35,186.06) scale(0.763,0.436)" font-size="10.0" font-weight="bold" text-anchor="middle" fill="#1f4fb4" stroke="#1f4fb4" stroke-width="0.42" stroke-linejoin="round" vector-effect="none">C</text>
<text transform="translate(274.35,187.20) scale(0.763,0.156)" font-size="10.0" font-weight="bold" text-anchor="middle" fill="#1e9e3c" stroke="#1e9e3c" stroke-width="0.42" stroke-linejoin="round" vector-effect="none">A</text>
<text x="223.3" y="194.4" font-size="8.6" fill="#1a1a1a" stroke="#1a1a1a" stroke-width="0.22" textLength="24.8" lengthAdjust="spacingAndGlyphs">c-Myc</text>
<text transform="translate(227.02,226.81) scale(0.956,0.495)" font-size="10.0" font-weight="bold" text-anchor="middle" fill="#1e9e3c" stroke="#1e9e3c" stroke-width="0.33" stroke-linejoin="round" vector-effect="none">A</text>
<text transform="translate(227.02,229.39) scale(0.887,0.354)" font-size="10.0" font-weight="bold" text-anchor="middle" fill="#f39a0b" stroke="#f39a0b" stroke-width="0.36" stroke-linejoin="round" vector-effect="none">G</text>
<text transform="translate(227.02,231.66) scale(0.956,0.311)" font-size="10.0" font-weight="bold" text-anchor="middle" fill="#1f4fb4" stroke="#1f4fb4" stroke-width="0.33" stroke-linejoin="round" vector-effect="none">C</text>
<text transform="translate(227.02,232.90) scale(1.130,0.170)" font-size="10.0" font-weight="bold" text-anchor="middle" fill="#d8142a" stroke="#d8142a" stroke-width="0.28" stroke-linejoin="round" vector-effect="none">T</text>
<text transform="translate(233.66,228.36) scale(0.956,0.708)" font-size="10.0" font-weight="bold" text-anchor="middle" fill="#1f4fb4" stroke="#1f4fb4" stroke-width="0.33" stroke-linejoin="round" vector-effect="none">C</text>
<text transform="translate(233.66,230.63) scale(0.887,0.311)" font-size="10.0" font-weight="bold" text-anchor="middle" fill="#f39a0b" stroke="#f39a0b" stroke-width="0.36" stroke-linejoin="round" vector-effect="none">G</text>
<text transform="translate(233.66,231.87) scale(0.956,0.170)" font-size="10.0" font-weight="bold" text-anchor="middle" fill="#1e9e3c" stroke="#1e9e3c" stroke-width="0.33" stroke-linejoin="round" vector-effect="none">A</text>
<text transform="translate(233.66,232.90) scale(1.130,0.142)" font-size="10.0" font-weight="bold" text-anchor="middle" fill="#d8142a" stroke="#d8142a" stroke-width="0.28" stroke-linejoin="round" vector-effect="none">T</text>
<text transform="translate(240.29,232.90) scale(0.956,1.331)" font-size="10.0" font-weight="bold" text-anchor="middle" fill="#1f4fb4" stroke="#1f4fb4" stroke-width="0.33" stroke-linejoin="round" vector-effect="none">C</text>
<text transform="translate(246.93,232.90) scale(0.956,1.331)" font-size="10.0" font-weight="bold" text-anchor="middle" fill="#1e9e3c" stroke="#1e9e3c" stroke-width="0.33" stroke-linejoin="round" vector-effect="none">A</text>
<text transform="translate(253.57,232.90) scale(0.956,1.331)" font-size="10.0" font-weight="bold" text-anchor="middle" fill="#1f4fb4" stroke="#1f4fb4" stroke-width="0.33" stroke-linejoin="round" vector-effect="none">C</text>
<text transform="translate(260.21,232.90) scale(0.887,1.331)" font-size="10.0" font-weight="bold" text-anchor="middle" fill="#f39a0b" stroke="#f39a0b" stroke-width="0.36" stroke-linejoin="round" vector-effect="none">G</text>
<text transform="translate(266.84,232.90) scale(1.130,1.331)" font-size="10.0" font-weight="bold" text-anchor="middle" fill="#d8142a" stroke="#d8142a" stroke-width="0.28" stroke-linejoin="round" vector-effect="none">T</text>
<text transform="translate(273.48,232.90) scale(0.887,1.331)" font-size="10.0" font-weight="bold" text-anchor="middle" fill="#f39a0b" stroke="#f39a0b" stroke-width="0.36" stroke-linejoin="round" vector-effect="none">G</text>
<text x="223.3" y="241" font-size="8.6" fill="#1a1a1a" stroke="#1a1a1a" stroke-width="0.22" textLength="24.8" lengthAdjust="spacingAndGlyphs">c-Myc</text>
<text x="468.3" y="81.8" font-size="7.8" fill="#1a1a1a" stroke="#1a1a1a" stroke-width="0.22" textLength="17.5" lengthAdjust="spacingAndGlyphs">Motif</text>
<text x="468.3" y="90.8" font-size="7.8" fill="#1a1a1a" stroke="#1a1a1a" stroke-width="0.22" textLength="39.2" lengthAdjust="spacingAndGlyphs">enrichment</text>
<defs><linearGradient id="cb" x1="0" y1="0" x2="0" y2="1"><stop offset="0" stop-color="#56a9ea"/><stop offset="1" stop-color="#132b43"/></linearGradient></defs>
<rect x="472.1" y="96.5" width="8.6" height="42.3" fill="url(#cb)"/>
<text x="483.3" y="102.2" font-size="7.6" fill="#1a1a1a" stroke="#1a1a1a" stroke-width="0.22" textLength="9.8" lengthAdjust="spacingAndGlyphs">2.5</text>
<path d="M472.1,99.5 h1.7 M480.7,99.5 h-1.7" stroke="#fff" stroke-width="0.5" opacity="0.8"/>
<text x="483.3" y="112.0" font-size="7.6" fill="#1a1a1a" stroke="#1a1a1a" stroke-width="0.22" textLength="9.8" lengthAdjust="spacingAndGlyphs">2.0</text>
<path d="M472.1,109.3 h1.7 M480.7,109.3 h-1.7" stroke="#fff" stroke-width="0.5" opacity="0.8"/>
<text x="483.3" y="123.4" font-size="7.6" fill="#1a1a1a" stroke="#1a1a1a" stroke-width="0.22" textLength="9.8" lengthAdjust="spacingAndGlyphs">1.5</text>
<path d="M472.1,120.7 h1.7 M480.7,120.7 h-1.7" stroke="#fff" stroke-width="0.5" opacity="0.8"/>
<text x="483.3" y="132.7" font-size="7.6" fill="#1a1a1a" stroke="#1a1a1a" stroke-width="0.22" textLength="9.8" lengthAdjust="spacingAndGlyphs">1.0</text>
<path d="M472.1,130 h1.7 M480.7,130 h-1.7" stroke="#fff" stroke-width="0.5" opacity="0.8"/>
<text x="468.3" y="155.5" font-size="7.8" fill="#1a1a1a" stroke="#1a1a1a" stroke-width="0.22" textLength="28.4" lengthAdjust="spacingAndGlyphs">-ln(pval)</text>
<circle cx="479.1" cy="161.6" r="1.25" fill="#000"/>
<circle cx="479.1" cy="171.8" r="4.2" fill="#000"/>
<circle cx="479.1" cy="184.9" r="5.8" fill="#000"/>
<text x="487.8" y="163.8" font-size="7.6" fill="#1a1a1a" stroke="#1a1a1a" stroke-width="0.22" textLength="4.2" lengthAdjust="spacingAndGlyphs">0</text>
<text x="487.8" y="174.8" font-size="7.6" fill="#1a1a1a" stroke="#1a1a1a" stroke-width="0.22" textLength="8.3" lengthAdjust="spacingAndGlyphs">10</text>
<text x="487.8" y="187" font-size="7.6" fill="#1a1a1a" stroke="#1a1a1a" stroke-width="0.22" textLength="8.3" lengthAdjust="spacingAndGlyphs">20</text></g>
<g id="pC"><text x="6.8" y="175.5" font-size="10.5" font-weight="bold" fill="#000" textLength="7.4" lengthAdjust="spacingAndGlyphs">C</text>
<text x="17.5" y="188.8" font-size="9" fill="#1a1a1a" stroke="#1a1a1a" stroke-width="0.22" textLength="42" lengthAdjust="spacingAndGlyphs">H3K4me3</text>
<text x="70.8" y="188.8" font-size="9" fill="#1a1a1a" stroke="#1a1a1a" stroke-width="0.22" textLength="40.4" lengthAdjust="spacingAndGlyphs">H3K4me1</text>
<text x="126.8" y="188.8" font-size="9" fill="#1a1a1a" stroke="#1a1a1a" stroke-width="0.22" textLength="40" lengthAdjust="spacingAndGlyphs">H3K27Ac</text>
<circle cx="37.2" cy="216.6" r="18.05" fill="none" stroke="#14507f" stroke-width="9.5"/>
<path d="M37.20,193.80 A22.8,22.8 0 0 0 33.07,239.02 L34.79,229.68 A13.3,13.3 0 0 1 37.20,203.30 Z" fill="#c8102e"/>
<path d="M37.20,193.80 L37.20,203.30 M33.07,239.02 L34.79,229.68" stroke="#fff" stroke-width="0.35"/>
<circle cx="91.2" cy="216.6" r="18.05" fill="none" stroke="#14507f" stroke-width="9.5"/>
<path d="M91.20,193.80 A22.8,22.8 0 0 0 71.95,204.38 L79.97,209.47 A13.3,13.3 0 0 1 91.20,203.30 Z" fill="#c8102e"/>
<path d="M91.20,193.80 L91.20,203.30 M71.95,204.38 L79.97,209.47" stroke="#fff" stroke-width="0.35"/>
<circle cx="145.2" cy="216.6" r="18.05" fill="none" stroke="#14507f" stroke-width="9.5"/>
<path d="M145.20,193.80 A22.8,22.8 0 0 0 129.18,232.82 L135.85,226.06 A13.3,13.3 0 0 1 145.20,203.30 Z" fill="#c8102e"/>
<path d="M145.20,193.80 L145.20,203.30 M129.18,232.82 L135.85,226.06" stroke="#fff" stroke-width="0.35"/>
<text x="19.3" y="249.3" font-size="8" fill="#1a1a1a" stroke="#1a1a1a" stroke-width="0.22" textLength="39.5" lengthAdjust="spacingAndGlyphs">Total=1604</text>
<text x="74.3" y="249.3" font-size="8" fill="#1a1a1a" stroke="#1a1a1a" stroke-width="0.22" textLength="39.5" lengthAdjust="spacingAndGlyphs">Total=3453</text>
<text x="129.3" y="249.3" font-size="8" fill="#1a1a1a" stroke="#1a1a1a" stroke-width="0.22" textLength="39" lengthAdjust="spacingAndGlyphs">Total=1724</text>
<rect x="28.30" y="260.00" width="4.80" height="5.00" fill="#c8102e"/>
<text x="35.8" y="264.6" font-size="7.5" fill="#1a1a1a" stroke="#1a1a1a" stroke-width="0.22" textLength="118" lengthAdjust="spacingAndGlyphs">Intersect with Myc ChIP-seq targets</text></g>
<g id="pD"><text x="6.8" y="291.8" font-size="10.5" font-weight="bold" fill="#000" textLength="8.2" lengthAdjust="spacingAndGlyphs">D</text>
<line x1="90.5" y1="319.3" x2="286.3" y2="319.3" stroke="#cfcfcf" stroke-width="0.6"/>
<line x1="288.3" y1="319.3" x2="508.5" y2="319.3" stroke="#cfcfcf" stroke-width="0.6"/>
<line x1="90.5" y1="359.4" x2="286.3" y2="359.4" stroke="#cfcfcf" stroke-width="0.6"/>
<line x1="288.3" y1="359.4" x2="508.5" y2="359.4" stroke="#cfcfcf" stroke-width="0.6"/>
<line x1="90.5" y1="400" x2="286.3" y2="400" stroke="#cfcfcf" stroke-width="0.6"/>
<line x1="288.3" y1="400" x2="508.5" y2="400" stroke="#cfcfcf" stroke-width="0.6"/>
<path d="M123.60,319.30 L123.60,319.25 L124.30,319.25 L124.30,319.16 L125.00,319.16 L125.00,319.06 L125.70,319.06 L125.70,318.96 L126.40,318.96 L126.40,318.87 L127.10,318.87 L127.10,318.80 L127.80,318.80 L127.80,318.68 L128.50,318.68 L128.50,318.36 L129.20,318.36 L129.20,318.17 L129.90,318.17 L129.90,317.93 L130.60,317.93 L130.60,317.10 L131.30,317.10 L131.30,316.28 L132.00,316.28 L132.00,315.07 L132.70,315.07 L132.70,314.01 L133.40,314.01 L133.40,312.51 L134.10,312.51 L134.10,311.48 L134.80,311.48 L134.80,309.50 L135.50,309.50 L135.50,307.63 L136.20,307.63 L136.20,306.57 L136.90,306.57 L136.90,304.88 L137.60,304.88 L137.60,303.82 L138.30,303.82 L138.30,304.84 L139.00,304.84 L139.00,303.99 L139.70,303.99 L139.70,304.44 L140.40,304.44 L140.40,304.89 L141.10,304.89 L141.10,305.02 L141.80,305.02 L141.80,303.60 L142.50,303.60 L142.50,304.46 L143.20,304.46 L143.20,304.36 L143.90,304.36 L143.90,305.21 L144.60,305.21 L144.60,306.55 L145.30,306.55 L145.30,307.46 L146.00,307.46 L146.00,309.17 L146.70,309.17 L146.70,309.57 L147.40,309.57 L147.40,310.60 L148.10,310.60 L148.10,310.90 L148.80,310.90 L148.80,311.67 L149.50,311.67 L149.50,312.92 L150.20,312.92 L150.20,313.55 L150.90,313.55 L150.90,313.91 L151.60,313.91 L151.60,313.93 L152.30,313.93 L152.30,314.62 L153.00,314.62 L153.00,314.92 L153.70,314.92 L153.70,315.40 L154.40,315.40 L154.40,315.67 L155.10,315.67 L155.10,316.06 L155.80,316.06 L155.80,316.41 L156.50,316.41 L156.50,316.67 L157.20,316.67 L157.20,317.00 L157.90,317.00 L157.90,317.27 L158.60,317.27 L158.60,317.65 L159.30,317.65 L159.30,318.02 L160.00,318.02 L160.00,318.44 L160.70,318.44 L160.70,318.85 L161.40,318.85 L161.40,319.27 L161.80,319.27 L161.80,319.30 Z" fill="#3b78c9"/>
<path d="M124.90,338.10 L124.90,337.99 L125.60,337.99 L125.60,337.78 L126.30,337.78 L126.30,337.54 L127.00,337.54 L127.00,337.34 L127.70,337.34 L127.70,337.11 L128.40,337.11 L128.40,336.52 L129.10,336.52 L129.10,335.83 L129.80,335.83 L129.80,335.33 L130.50,335.33 L130.50,334.98 L131.20,334.98 L131.20,335.06 L131.90,335.06 L131.90,335.05 L132.60,335.05 L132.60,334.30 L133.30,334.30 L133.30,332.91 L134.00,332.91 L134.00,331.18 L134.70,331.18 L134.70,329.33 L135.40,329.33 L135.40,327.32 L136.10,327.32 L136.10,326.23 L136.80,326.23 L136.80,325.55 L137.50,325.55 L137.50,324.88 L138.20,324.88 L138.20,326.02 L138.90,326.02 L138.90,326.29 L139.60,326.29 L139.60,326.29 L140.30,326.29 L140.30,325.91 L141.00,325.91 L141.00,325.44 L141.70,325.44 L141.70,325.80 L142.40,325.80 L142.40,327.46 L143.10,327.46 L143.10,327.42 L143.80,327.42 L143.80,328.05 L144.50,328.05 L144.50,328.94 L145.20,328.94 L145.20,329.98 L145.90,329.98 L145.90,330.37 L146.60,330.37 L146.60,331.40 L147.30,331.40 L147.30,331.44 L148.00,331.44 L148.00,332.34 L148.70,332.34 L148.70,333.37 L149.40,333.37 L149.40,334.30 L150.10,334.30 L150.10,334.54 L150.80,334.54 L150.80,335.01 L151.50,335.01 L151.50,335.24 L152.20,335.24 L152.20,335.59 L152.90,335.59 L152.90,335.96 L153.60,335.96 L153.60,336.16 L154.30,336.16 L154.30,336.29 L155.00,336.29 L155.00,336.50 L155.70,336.50 L155.70,336.72 L156.40,336.72 L156.40,336.87 L157.10,336.87 L157.10,337.02 L157.80,337.02 L157.80,337.34 L158.50,337.34 L158.50,337.57 L159.20,337.57 L159.20,337.77 L159.90,337.77 L159.90,338.02 L160.50,338.02 L160.50,338.10 Z" fill="#1f8f24"/>
<rect x="90.80" y="358.40" width="9.20" height="0.90" fill="#8fb0e3"/>
<rect x="113.00" y="358.40" width="5.00" height="0.90" fill="#8fb0e3"/>
<rect x="176.80" y="358.40" width="11.20" height="0.90" fill="#8fb0e3"/>
<rect x="181.00" y="358.40" width="9.00" height="0.90" fill="#8fb0e3"/>
<rect x="213.80" y="357.80" width="8.70" height="1.50" fill="#8fb0e3"/>
<path d="M100.50,359.30 L100.50,358.73 L101.25,358.73 L101.25,357.55 L102.00,357.55 L102.00,356.62 L102.75,356.62 L102.75,355.87 L103.50,355.87 L103.50,355.39 L104.25,355.39 L104.25,354.56 L105.00,354.56 L105.00,355.26 L105.75,355.26 L105.75,354.89 L106.50,354.89 L106.50,354.49 L107.25,354.49 L107.25,354.90 L108.00,354.90 L108.00,355.11 L108.75,355.11 L108.75,356.51 L109.50,356.51 L109.50,356.99 L110.25,356.99 L110.25,357.66 L111.00,357.66 L111.00,358.10 L111.75,358.10 L111.75,358.65 L112.50,358.65 L112.50,359.22 L113.00,359.22 L113.00,359.30 Z" fill="#3b78c9"/>
<path d="M124.00,359.30 L124.00,358.92 L124.60,358.92 L124.60,358.15 L125.20,358.15 L125.20,358.08 L125.80,358.08 L125.80,358.12 L126.40,358.12 L126.40,358.16 L127.00,358.16 L127.00,357.97 L127.60,357.97 L127.60,357.99 L128.20,357.99 L128.20,357.89 L128.80,357.89 L128.80,357.97 L129.40,357.97 L129.40,357.84 L130.00,357.84 L130.00,357.95 L130.60,357.95 L130.60,357.78 L131.20,357.78 L131.20,357.77 L131.80,357.77 L131.80,357.84 L132.40,357.84 L132.40,356.78 L133.00,356.78 L133.00,355.13 L133.60,355.13 L133.60,355.48 L134.20,355.48 L134.20,355.13 L134.80,355.13 L134.80,354.87 L135.40,354.87 L135.40,355.27 L136.00,355.27 L136.00,354.77 L136.60,354.77 L136.60,354.81 L137.20,354.81 L137.20,354.62 L137.80,354.62 L137.80,355.02 L138.40,355.02 L138.40,355.19 L139.00,355.19 L139.00,354.53 L139.60,354.53 L139.60,354.53 L140.20,354.53 L140.20,354.85 L140.80,354.85 L140.80,355.17 L141.40,355.17 L141.40,355.07 L142.00,355.07 L142.00,354.68 L142.60,354.68 L142.60,354.99 L143.20,354.99 L143.20,354.39 L143.80,354.39 L143.80,354.72 L144.40,354.72 L144.40,355.07 L145.00,355.07 L145.00,353.58 L145.60,353.58 L145.60,351.86 L146.20,351.86 L146.20,350.15 L146.80,350.15 L146.80,349.65 L147.40,349.65 L147.40,349.86 L148.00,349.86 L148.00,349.10 L148.60,349.10 L148.60,348.47 L149.20,348.47 L149.20,347.84 L149.80,347.84 L149.80,347.08 L150.40,347.08 L150.40,348.87 L151.00,348.87 L151.00,347.75 L151.60,347.75 L151.60,346.44 L152.20,346.44 L152.20,346.33 L152.80,346.33 L152.80,344.64 L153.40,344.64 L153.40,345.81 L154.00,345.81 L154.00,344.45 L154.60,344.45 L154.60,346.33 L155.20,346.33 L155.20,348.22 L155.80,348.22 L155.80,347.53 L156.40,347.53 L156.40,348.91 L157.00,348.91 L157.00,349.72 L157.60,349.72 L157.60,349.73 L158.20,349.73 L158.20,350.87 L158.80,350.87 L158.80,351.21 L159.40,351.21 L159.40,350.63 L160.00,350.63 L160.00,351.42 L160.60,351.42 L160.60,352.91 L161.20,352.91 L161.20,352.12 L161.80,352.12 L161.80,353.37 L162.40,353.37 L162.40,353.19 L163.00,353.19 L163.00,352.73 L163.60,352.73 L163.60,353.36 L164.20,353.36 L164.20,354.01 L164.80,354.01 L164.80,354.23 L165.40,354.23 L165.40,354.22 L166.00,354.22 L166.00,353.93 L166.60,353.93 L166.60,352.26 L167.20,352.26 L167.20,353.27 L167.80,353.27 L167.80,352.63 L168.40,352.63 L168.40,352.03 L169.00,352.03 L169.00,352.52 L169.60,352.52 L169.60,351.87 L170.20,351.87 L170.20,353.01 L170.80,353.01 L170.80,352.31 L171.40,352.31 L171.40,353.23 L172.00,353.23 L172.00,354.26 L172.60,354.26 L172.60,354.85 L173.20,354.85 L173.20,355.84 L173.80,355.84 L173.80,356.21 L174.40,356.21 L174.40,356.86 L175.00,356.86 L175.00,357.59 L175.60,357.59 L175.60,358.27 L176.20,358.27 L176.20,358.94 L176.80,358.94 L176.80,359.30 Z" fill="#3b78c9"/>
<rect x="267.50" y="357.70" width="11.80" height="1.60" fill="#3b78c9"/>
<rect x="271.30" y="356.30" width="5.00" height="3.00" fill="#3b78c9"/>
<rect x="91.00" y="377.90" width="9.00" height="0.90" fill="#1f8f24"/>
<rect x="93.00" y="377.30" width="3.00" height="1.50" fill="#1f8f24"/>
<rect x="100.00" y="378.00" width="9.50" height="0.80" fill="#1f8f24"/>
<rect x="141.80" y="376.90" width="6.20" height="1.90" fill="#1f8f24"/>
<rect x="148.00" y="377.70" width="5.00" height="1.10" fill="#1f8f24"/>
<rect x="153.00" y="377.10" width="5.00" height="1.70" fill="#1f8f24"/>
<rect x="158.00" y="376.90" width="6.00" height="1.90" fill="#1f8f24"/>
<rect x="160.50" y="376.00" width="2.50" height="2.80" fill="#1f8f24"/>
<rect x="164.00" y="377.80" width="2.20" height="1.00" fill="#1f8f24"/>
<rect x="174.60" y="377.90" width="3.40" height="0.90" fill="#1f8f24"/>
<rect x="183.80" y="378.00" width="17.50" height="0.80" fill="#1f8f24"/>
<rect x="184.50" y="377.60" width="5.50" height="1.20" fill="#1f8f24"/>
<rect x="186.00" y="377.20" width="2.50" height="1.60" fill="#1f8f24"/>
<rect x="193.50" y="377.40" width="5.50" height="1.40" fill="#1f8f24"/>
<path d="M109.50,378.80 L109.50,376.21 L110.10,376.21 L110.10,374.75 L110.70,374.75 L110.70,374.33 L111.30,374.33 L111.30,374.40 L111.90,374.40 L111.90,374.52 L112.50,374.52 L112.50,374.20 L113.10,374.20 L113.10,374.18 L113.70,374.18 L113.70,374.33 L114.30,374.33 L114.30,374.32 L114.90,374.32 L114.90,374.45 L115.50,374.45 L115.50,374.75 L116.10,374.75 L116.10,374.93 L116.70,374.93 L116.70,378.80 L117.00,378.80 L117.00,378.80 Z" fill="#1f8f24"/>
<path d="M123.80,378.80 L123.80,376.71 L124.40,376.71 L124.40,376.27 L125.00,376.27 L125.00,376.23 L125.60,376.23 L125.60,375.69 L126.20,375.69 L126.20,376.06 L126.80,376.06 L126.80,376.11 L127.40,376.11 L127.40,375.88 L128.00,375.88 L128.00,376.04 L128.60,376.04 L128.60,375.81 L129.20,375.81 L129.20,376.12 L129.80,376.12 L129.80,376.35 L130.40,376.35 L130.40,378.80 L130.60,378.80 L130.60,378.80 Z" fill="#1f8f24"/>
<path d="M166.20,378.80 L166.20,374.11 L166.80,374.11 L166.80,371.93 L167.40,371.93 L167.40,371.26 L168.00,371.26 L168.00,371.45 L168.60,371.45 L168.60,370.93 L169.20,370.93 L169.20,370.93 L169.80,370.93 L169.80,369.27 L170.40,369.27 L170.40,368.87 L171.00,368.87 L171.00,368.45 L171.60,368.45 L171.60,368.15 L172.20,368.15 L172.20,368.53 L172.80,368.53 L172.80,368.42 L173.40,368.42 L173.40,370.80 L174.00,370.80 L174.00,375.92 L174.60,375.92 L174.60,378.80 Z" fill="#1f8f24"/>
<rect x="113.00" y="399.00" width="6.80" height="1.00" fill="#8fb0e3"/>
<rect x="164.00" y="399.00" width="9.00" height="1.00" fill="#8fb0e3"/>
<rect x="216.30" y="399.00" width="5.00" height="1.00" fill="#8fb0e3"/>
<rect x="231.30" y="399.00" width="4.70" height="1.00" fill="#8fb0e3"/>
<rect x="249.50" y="399.00" width="2.00" height="1.00" fill="#8fb0e3"/>
<rect x="252.50" y="399.00" width="2.50" height="1.00" fill="#8fb0e3"/>
<path d="M125.00,400.00 L125.00,399.88 L125.50,399.88 L125.50,399.60 L126.00,399.60 L126.00,399.41 L126.50,399.41 L126.50,399.10 L127.00,399.10 L127.00,398.91 L127.50,398.91 L127.50,398.56 L128.00,398.56 L128.00,398.02 L128.50,398.02 L128.50,397.93 L129.00,397.93 L129.00,397.44 L129.50,397.44 L129.50,397.19 L130.00,397.19 L130.00,396.77 L130.50,396.77 L130.50,396.25 L131.00,396.25 L131.00,395.96 L131.50,395.96 L131.50,395.00 L132.00,395.00 L132.00,395.09 L132.50,395.09 L132.50,394.49 L133.00,394.49 L133.00,394.23 L133.50,394.23 L133.50,393.50 L134.00,393.50 L134.00,392.86 L134.50,392.86 L134.50,391.75 L135.00,391.75 L135.00,391.91 L135.50,391.91 L135.50,391.79 L136.00,391.79 L136.00,391.19 L136.50,391.19 L136.50,389.75 L137.00,389.75 L137.00,390.85 L137.50,390.85 L137.50,389.64 L138.00,389.64 L138.00,389.71 L138.50,389.71 L138.50,388.89 L139.00,388.89 L139.00,389.13 L139.50,389.13 L139.50,388.16 L140.00,388.16 L140.00,388.19 L140.50,388.19 L140.50,387.57 L141.00,387.57 L141.00,386.01 L141.50,386.01 L141.50,384.98 L142.00,384.98 L142.00,387.18 L142.50,387.18 L142.50,388.48 L143.00,388.48 L143.00,387.16 L143.50,387.16 L143.50,388.43 L144.00,388.43 L144.00,389.35 L144.50,389.35 L144.50,388.42 L145.00,388.42 L145.00,389.43 L145.50,389.43 L145.50,389.57 L146.00,389.57 L146.00,389.72 L146.50,389.72 L146.50,391.15 L147.00,391.15 L147.00,391.69 L147.50,391.69 L147.50,391.69 L148.00,391.69 L148.00,393.23 L148.50,393.23 L148.50,393.16 L149.00,393.16 L149.00,394.44 L149.50,394.44 L149.50,394.53 L150.00,394.53 L150.00,394.97 L150.50,394.97 L150.50,395.04 L151.00,395.04 L151.00,395.38 L151.50,395.38 L151.50,395.87 L152.00,395.87 L152.00,396.31 L152.50,396.31 L152.50,396.58 L153.00,396.58 L153.00,396.59 L153.50,396.59 L153.50,396.82 L154.00,396.82 L154.00,397.24 L154.50,397.24 L154.50,397.08 L155.00,397.08 L155.00,397.47 L155.50,397.47 L155.50,397.62 L156.00,397.62 L156.00,397.98 L156.50,397.98 L156.50,398.13 L157.00,398.13 L157.00,398.36 L157.50,398.36 L157.50,398.42 L158.00,398.42 L158.00,398.60 L158.50,398.60 L158.50,398.73 L159.00,398.73 L159.00,398.93 L159.50,398.93 L159.50,399.07 L160.00,399.07 L160.00,399.29 L160.50,399.29 L160.50,399.57 L161.00,399.57 L161.00,399.77 L161.50,399.77 L161.50,399.98 L161.80,399.98 L161.80,400.00 Z" fill="#3b78c9"/>
<rect x="94.30" y="416.60" width="7.50" height="1.60" fill="#1f8f24"/>
<rect x="95.50" y="415.90" width="3.00" height="2.30" fill="#1f8f24"/>
<rect x="128.00" y="417.00" width="6.00" height="1.20" fill="#1f8f24"/>
<rect x="129.50" y="416.40" width="2.50" height="1.80" fill="#1f8f24"/>
<rect x="154.00" y="416.60" width="12.00" height="1.60" fill="#1f8f24"/>
<rect x="158.00" y="415.40" width="7.00" height="2.80" fill="#1f8f24"/>
<rect x="159.50" y="414.60" width="1.50" height="3.60" fill="#1f8f24"/>
<rect x="162.50" y="414.80" width="1.50" height="3.40" fill="#1f8f24"/>
<rect x="271.30" y="417.00" width="11.20" height="1.20" fill="#1f8f24"/>
<rect x="274.00" y="415.80" width="5.00" height="2.40" fill="#1f8f24"/>
<path d="M309.50,319.30 L309.50,319.09 L310.20,319.09 L310.20,318.67 L310.90,318.67 L310.90,318.20 L311.60,318.20 L311.60,317.84 L312.30,317.84 L312.30,316.82 L313.00,316.82 L313.00,315.74 L313.70,315.74 L313.70,314.86 L314.40,314.86 L314.40,313.04 L315.10,313.04 L315.10,311.29 L315.80,311.29 L315.80,309.21 L316.50,309.21 L316.50,308.21 L317.20,308.21 L317.20,305.80 L317.90,305.80 L317.90,305.13 L318.60,305.13 L318.60,303.36 L319.30,303.36 L319.30,304.21 L320.00,304.21 L320.00,307.10 L320.70,307.10 L320.70,308.66 L321.40,308.66 L321.40,311.10 L322.10,311.10 L322.10,312.51 L322.80,312.51 L322.80,313.28 L323.50,313.28 L323.50,312.98 L324.20,312.98 L324.20,312.45 L324.90,312.45 L324.90,311.04 L325.60,311.04 L325.60,310.59 L326.30,310.59 L326.30,310.93 L327.00,310.93 L327.00,311.75 L327.70,311.75 L327.70,312.54 L328.40,312.54 L328.40,312.73 L329.10,312.73 L329.10,313.17 L329.80,313.17 L329.80,313.24 L330.50,313.24 L330.50,313.81 L331.20,313.81 L331.20,313.96 L331.90,313.96 L331.90,314.23 L332.60,314.23 L332.60,314.32 L333.30,314.32 L333.30,314.63 L334.00,314.63 L334.00,314.87 L334.70,314.87 L334.70,314.59 L335.40,314.59 L335.40,314.70 L336.10,314.70 L336.10,314.89 L336.80,314.89 L336.80,315.07 L337.50,315.07 L337.50,315.37 L338.20,315.37 L338.20,315.61 L338.90,315.61 L338.90,315.81 L339.60,315.81 L339.60,316.12 L340.30,316.12 L340.30,316.08 L341.00,316.08 L341.00,316.48 L341.70,316.48 L341.70,316.64 L342.40,316.64 L342.40,317.07 L343.10,317.07 L343.10,317.23 L343.80,317.23 L343.80,317.57 L344.50,317.57 L344.50,317.91 L345.20,317.91 L345.20,318.02 L345.90,318.02 L345.90,318.07 L346.60,318.07 L346.60,318.28 L347.30,318.28 L347.30,318.40 L348.00,318.40 L348.00,318.66 L348.70,318.66 L348.70,318.89 L349.40,318.89 L349.40,319.07 L350.10,319.07 L350.10,319.28 L350.50,319.28 L350.50,319.30 Z" fill="#3b78c9"/>
<path d="M309.90,338.10 L309.90,337.94 L310.60,337.94 L310.60,337.60 L311.30,337.60 L311.30,337.27 L312.00,337.27 L312.00,337.03 L312.70,337.03 L312.70,336.41 L313.40,336.41 L313.40,335.55 L314.10,335.55 L314.10,334.82 L314.80,334.82 L314.80,333.70 L315.50,333.70 L315.50,332.74 L316.20,332.74 L316.20,331.78 L316.90,331.78 L316.90,330.80 L317.60,330.80 L317.60,329.91 L318.30,329.91 L318.30,329.89 L319.00,329.89 L319.00,328.91 L319.70,328.91 L319.70,328.86 L320.40,328.86 L320.40,327.45 L321.10,327.45 L321.10,329.39 L321.80,329.39 L321.80,329.33 L322.50,329.33 L322.50,331.08 L323.20,331.08 L323.20,331.38 L323.90,331.38 L323.90,332.38 L324.60,332.38 L324.60,333.02 L325.30,333.02 L325.30,333.35 L326.00,333.35 L326.00,334.19 L326.70,334.19 L326.70,334.48 L327.40,334.48 L327.40,334.38 L328.10,334.38 L328.10,334.86 L328.80,334.86 L328.80,335.28 L329.50,335.28 L329.50,335.18 L330.20,335.18 L330.20,335.45 L330.90,335.45 L330.90,335.83 L331.60,335.83 L331.60,335.82 L332.30,335.82 L332.30,336.00 L333.00,336.00 L333.00,336.04 L333.70,336.04 L333.70,336.04 L334.40,336.04 L334.40,336.26 L335.10,336.26 L335.10,336.19 L335.80,336.19 L335.80,336.43 L336.50,336.43 L336.50,336.46 L337.20,336.46 L337.20,336.38 L337.90,336.38 L337.90,336.55 L338.60,336.55 L338.60,336.61 L339.30,336.61 L339.30,336.65 L340.00,336.65 L340.00,336.73 L340.70,336.73 L340.70,336.78 L341.40,336.78 L341.40,336.89 L342.10,336.89 L342.10,336.81 L342.80,336.81 L342.80,336.81 L343.50,336.81 L343.50,336.85 L344.20,336.85 L344.20,336.95 L344.90,336.95 L344.90,337.01 L345.60,337.01 L345.60,336.96 L346.30,336.96 L346.30,336.86 L347.00,336.86 L347.00,336.81 L347.70,336.81 L347.70,336.89 L348.40,336.89 L348.40,337.22 L349.10,337.22 L349.10,337.56 L349.80,337.56 L349.80,337.92 L350.50,337.92 L350.50,338.10 Z" fill="#1f8f24"/>
<rect x="290.00" y="357.70" width="5.50" height="1.60" fill="#3b78c9"/>
<rect x="291.50" y="356.50" width="2.50" height="2.80" fill="#3b78c9"/>
<rect x="304.50" y="357.70" width="5.50" height="1.60" fill="#3b78c9"/>
<rect x="306.00" y="356.50" width="3.00" height="2.80" fill="#3b78c9"/>
<rect x="311.30" y="358.00" width="5.00" height="1.30" fill="#3b78c9"/>
<rect x="390.00" y="357.70" width="10.50" height="1.60" fill="#3b78c9"/>
<rect x="394.00" y="356.20" width="6.00" height="3.10" fill="#3b78c9"/>
<rect x="449.30" y="357.80" width="4.50" height="1.50" fill="#3b78c9"/>
<rect x="459.50" y="357.80" width="5.00" height="1.50" fill="#3b78c9"/>
<path d="M325.00,359.30 L325.00,357.84 L325.60,357.84 L325.60,356.74 L326.20,356.74 L326.20,356.74 L326.80,356.74 L326.80,356.70 L327.40,356.70 L327.40,356.89 L328.00,356.89 L328.00,356.88 L328.60,356.88 L328.60,356.91 L329.20,356.91 L329.20,356.88 L329.80,356.88 L329.80,356.73 L330.40,356.73 L330.40,356.91 L331.00,356.91 L331.00,356.79 L331.60,356.79 L331.60,356.89 L332.20,356.89 L332.20,356.86 L332.80,356.86 L332.80,356.82 L333.40,356.82 L333.40,355.66 L334.00,355.66 L334.00,354.05 L334.60,354.05 L334.60,354.08 L335.20,354.08 L335.20,353.56 L335.80,353.56 L335.80,353.35 L336.40,353.35 L336.40,352.75 L337.00,352.75 L337.00,352.73 L337.60,352.73 L337.60,352.68 L338.20,352.68 L338.20,352.60 L338.80,352.60 L338.80,352.51 L339.40,352.51 L339.40,351.71 L340.00,351.71 L340.00,351.23 L340.60,351.23 L340.60,351.15 L341.20,351.15 L341.20,349.92 L341.80,349.92 L341.80,349.72 L342.40,349.72 L342.40,348.90 L343.00,348.90 L343.00,348.85 L343.60,348.85 L343.60,348.92 L344.20,348.92 L344.20,349.79 L344.80,349.79 L344.80,350.64 L345.40,350.64 L345.40,352.33 L346.00,352.33 L346.00,354.02 L346.60,354.02 L346.60,354.33 L347.20,354.33 L347.20,354.68 L347.80,354.68 L347.80,352.78 L348.40,352.78 L348.40,349.19 L349.00,349.19 L349.00,348.73 L349.60,348.73 L349.60,348.49 L350.20,348.49 L350.20,349.26 L350.80,349.26 L350.80,345.77 L351.40,345.77 L351.40,344.65 L352.00,344.65 L352.00,346.08 L352.60,346.08 L352.60,348.57 L353.20,348.57 L353.20,348.77 L353.80,348.77 L353.80,349.11 L354.40,349.11 L354.40,348.85 L355.00,348.85 L355.00,348.67 L355.60,348.67 L355.60,354.12 L356.20,354.12 L356.20,359.30 L356.30,359.30 L356.30,359.30 Z" fill="#3b78c9"/>
<rect x="288.60" y="378.00" width="3.40" height="0.80" fill="#1f8f24"/>
<rect x="295.00" y="377.60" width="6.30" height="1.20" fill="#1f8f24"/>
<rect x="296.50" y="376.60" width="3.50" height="2.20" fill="#1f8f24"/>
<rect x="358.80" y="377.20" width="6.20" height="1.60" fill="#1f8f24"/>
<rect x="360.00" y="375.80" width="4.00" height="3.00" fill="#1f8f24"/>
<path d="M324.90,378.80 L324.90,378.02 L325.50,378.02 L325.50,376.29 L326.10,376.29 L326.10,374.93 L326.70,374.93 L326.70,373.54 L327.30,373.54 L327.30,372.85 L327.90,372.85 L327.90,372.16 L328.50,372.16 L328.50,371.03 L329.10,371.03 L329.10,370.75 L329.70,370.75 L329.70,371.28 L330.30,371.28 L330.30,371.85 L330.90,371.85 L330.90,372.63 L331.50,372.63 L331.50,372.19 L332.10,372.19 L332.10,372.55 L332.70,372.55 L332.70,373.23 L333.30,373.23 L333.30,374.08 L333.90,374.08 L333.90,375.08 L334.50,375.08 L334.50,375.82 L335.10,375.82 L335.10,376.36 L335.70,376.36 L335.70,376.48 L336.30,376.48 L336.30,376.08 L336.90,376.08 L336.90,375.38 L337.50,375.38 L337.50,375.20 L338.10,375.20 L338.10,375.28 L338.70,375.28 L338.70,374.93 L339.30,374.93 L339.30,373.60 L339.90,373.60 L339.90,369.98 L340.50,369.98 L340.50,368.23 L341.10,368.23 L341.10,368.27 L341.70,368.27 L341.70,369.43 L342.30,369.43 L342.30,372.97 L342.90,372.97 L342.90,373.19 L343.50,373.19 L343.50,374.13 L344.10,374.13 L344.10,374.65 L344.70,374.65 L344.70,377.61 L345.20,377.61 L345.20,378.80 Z" fill="#1f8f24"/>
<rect x="353.80" y="399.10" width="6.20" height="0.90" fill="#8fb0e3"/>
<rect x="360.00" y="398.50" width="11.30" height="1.50" fill="#8fb0e3"/>
<rect x="363.00" y="398.00" width="6.00" height="2.00" fill="#8fb0e3"/>
<rect x="386.30" y="399.00" width="5.70" height="1.00" fill="#8fb0e3"/>
<rect x="394.00" y="399.00" width="6.00" height="1.00" fill="#8fb0e3"/>
<rect x="417.00" y="399.00" width="1.50" height="1.00" fill="#8fb0e3"/>
<rect x="425.00" y="399.00" width="15.00" height="1.00" fill="#8fb0e3"/>
<rect x="427.00" y="398.60" width="9.00" height="1.40" fill="#8fb0e3"/>
<rect x="465.00" y="399.00" width="3.00" height="1.00" fill="#8fb0e3"/>
<rect x="475.00" y="399.00" width="3.00" height="1.00" fill="#8fb0e3"/>
<rect x="493.50" y="399.00" width="1.30" height="1.00" fill="#8fb0e3"/>
<path d="M310.00,400.00 L310.00,399.80 L310.50,399.80 L310.50,399.49 L311.00,399.49 L311.00,399.02 L311.50,399.02 L311.50,398.78 L312.00,398.78 L312.00,398.15 L312.50,398.15 L312.50,398.14 L313.00,398.14 L313.00,397.38 L313.50,397.38 L313.50,397.09 L314.00,397.09 L314.00,396.55 L314.50,396.55 L314.50,395.98 L315.00,395.98 L315.00,396.13 L315.50,396.13 L315.50,395.62 L316.00,395.62 L316.00,394.84 L316.50,394.84 L316.50,394.84 L317.00,394.84 L317.00,394.44 L317.50,394.44 L317.50,394.06 L318.00,394.06 L318.00,392.90 L318.50,392.90 L318.50,392.61 L319.00,392.61 L319.00,392.45 L319.50,392.45 L319.50,393.03 L320.00,393.03 L320.00,392.03 L320.50,392.03 L320.50,392.93 L321.00,392.93 L321.00,393.61 L321.50,393.61 L321.50,393.61 L322.00,393.61 L322.00,393.86 L322.50,393.86 L322.50,394.40 L323.00,394.40 L323.00,393.94 L323.50,393.94 L323.50,394.30 L324.00,394.30 L324.00,394.02 L324.50,394.02 L324.50,393.38 L325.00,393.38 L325.00,393.52 L325.50,393.52 L325.50,393.62 L326.00,393.62 L326.00,392.89 L326.50,392.89 L326.50,392.66 L327.00,392.66 L327.00,393.29 L327.50,393.29 L327.50,392.62 L328.00,392.62 L328.00,393.94 L328.50,393.94 L328.50,393.97 L329.00,393.97 L329.00,394.11 L329.50,394.11 L329.50,393.37 L330.00,393.37 L330.00,393.93 L330.50,393.93 L330.50,394.21 L331.00,394.21 L331.00,394.97 L331.50,394.97 L331.50,395.05 L332.00,395.05 L332.00,394.99 L332.50,394.99 L332.50,396.12 L333.00,396.12 L333.00,396.63 L333.50,396.63 L333.50,397.20 L334.00,397.20 L334.00,397.35 L334.50,397.35 L334.50,397.44 L335.00,397.44 L335.00,397.84 L335.50,397.84 L335.50,397.92 L336.00,397.92 L336.00,397.62 L336.50,397.62 L336.50,397.54 L337.00,397.54 L337.00,396.87 L337.50,396.87 L337.50,397.01 L338.00,397.01 L338.00,396.93 L338.50,396.93 L338.50,396.73 L339.00,396.73 L339.00,396.21 L339.50,396.21 L339.50,396.42 L340.00,396.42 L340.00,395.85 L340.50,395.85 L340.50,396.20 L341.00,396.20 L341.00,396.04 L341.50,396.04 L341.50,396.26 L342.00,396.26 L342.00,395.48 L342.50,395.48 L342.50,395.49 L343.00,395.49 L343.00,395.82 L343.50,395.82 L343.50,396.31 L344.00,396.31 L344.00,396.21 L344.50,396.21 L344.50,396.49 L345.00,396.49 L345.00,396.46 L345.50,396.46 L345.50,396.81 L346.00,396.81 L346.00,397.31 L346.50,397.31 L346.50,397.91 L347.00,397.91 L347.00,398.30 L347.50,398.30 L347.50,398.25 L348.00,398.25 L348.00,398.50 L348.50,398.50 L348.50,398.95 L349.00,398.95 L349.00,399.17 L349.50,399.17 L349.50,399.50 L350.00,399.50 L350.00,399.82 L350.50,399.82 L350.50,400.00 Z" fill="#3b78c9"/>
<rect x="323.00" y="412.00" width="5.00" height="6.20" fill="#1f8f24"/>
<rect x="432.50" y="417.20" width="3.80" height="1.00" fill="#1f8f24"/>
<rect x="433.50" y="416.50" width="1.80" height="1.70" fill="#1f8f24"/>
<rect x="494.30" y="417.20" width="5.70" height="1.00" fill="#1f8f24"/>
<rect x="495.50" y="416.00" width="3.50" height="2.20" fill="#1f8f24"/>
<rect x="125.50" y="423.70" width="38.00" height="5.10" fill="#f01a1a"/>
<rect x="313.80" y="423.70" width="18.80" height="5.10" fill="#f01a1a"/>
<line x1="134.3" y1="435.6" x2="283" y2="435.6" stroke="#b9c0ee" stroke-width="2"/>
<line x1="134.3" y1="435.6" x2="283" y2="435.6" stroke="#0c0c9c" stroke-width="0.6"/>
<path d="M136.2,433.0 L134.2,435.6 L136.2,438.20000000000005" fill="none" stroke="#0c0c9c" stroke-width="1.2"/>
<rect x="171.20" y="432.20" width="1.60" height="6.80" fill="#0c0c9c"/>
<rect x="191.60" y="432.20" width="1.20" height="6.80" fill="#0c0c9c"/>
<rect x="214.90" y="432.20" width="1.20" height="6.80" fill="#0c0c9c"/>
<rect x="155.40" y="434.90" width="1.20" height="1.40" fill="#0c0c9c"/>
<rect x="181.40" y="434.90" width="1.20" height="1.40" fill="#0c0c9c"/>
<rect x="199.40" y="434.90" width="1.20" height="1.40" fill="#0c0c9c"/>
<rect x="223.40" y="434.90" width="1.20" height="1.40" fill="#0c0c9c"/>
<rect x="237.40" y="434.90" width="1.20" height="1.40" fill="#0c0c9c"/>
<rect x="251.40" y="434.90" width="1.20" height="1.40" fill="#0c0c9c"/>
<rect x="266.40" y="434.90" width="1.20" height="1.40" fill="#0c0c9c"/>
<rect x="278.80" y="432.00" width="3.00" height="7.20" fill="#0c0c9c"/>
<path d="M281.6,432.0 L283.2,433.6 L283.2,437.6 L281.6,439.20000000000005 Z" fill="#0c0c9c"/>
<text x="195" y="445.1" font-size="6.8" fill="#222" textLength="23.5" lengthAdjust="spacingAndGlyphs">Mrpl23</text>
<line x1="311.3" y1="435.8" x2="503.8" y2="435.8" stroke="#b9c0ee" stroke-width="1.6"/>
<line x1="311.3" y1="435.8" x2="503.8" y2="435.8" stroke="#0c0c9c" stroke-width="0.6"/>
<rect x="311.00" y="434.20" width="0.80" height="3.20" fill="#0c0c9c"/>
<rect x="316.80" y="433.80" width="1.40" height="4.00" fill="#0c0c9c"/>
<path d="M322.1,434.7 L323.7,435.8 L322.1,436.90000000000003 Z" fill="#0c0c9c"/>
<path d="M332.1,434.7 L333.7,435.8 L332.1,436.90000000000003 Z" fill="#0c0c9c"/>
<path d="M340.1,434.7 L341.7,435.8 L340.1,436.90000000000003 Z" fill="#0c0c9c"/>
<path d="M348.1,434.7 L349.7,435.8 L348.1,436.90000000000003 Z" fill="#0c0c9c"/>
<path d="M356.1,434.7 L357.7,435.8 L356.1,436.90000000000003 Z" fill="#0c0c9c"/>
<path d="M364.1,434.7 L365.7,435.8 L364.1,436.90000000000003 Z" fill="#0c0c9c"/>
<path d="M381.1,434.7 L382.7,435.8 L381.1,436.90000000000003 Z" fill="#0c0c9c"/>
<path d="M395.1,434.7 L396.7,435.8 L395.1,436.90000000000003 Z" fill="#0c0c9c"/>
<path d="M403.1,434.7 L404.7,435.8 L403.1,436.90000000000003 Z" fill="#0c0c9c"/>
<path d="M429.1,434.7 L430.7,435.8 L429.1,436.90000000000003 Z" fill="#0c0c9c"/>
<path d="M464.1,434.7 L465.7,435.8 L464.1,436.90000000000003 Z" fill="#0c0c9c"/>
<path d="M479.1,434.7 L480.7,435.8 L479.1,436.90000000000003 Z" fill="#0c0c9c"/>
<rect x="373.10" y="432.20" width="1.50" height="7.20" fill="#0c0c9c"/>
<rect x="410.00" y="432.30" width="8.80" height="7.00" fill="#0c0c9c"/>
<rect x="420.00" y="432.30" width="2.50" height="7.00" fill="#0c0c9c"/>
<rect x="442.40" y="432.30" width="1.40" height="7.00" fill="#0c0c9c"/>
<rect x="495.00" y="432.30" width="3.20" height="7.00" fill="#0c0c9c"/>
<rect x="498.00" y="433.70" width="5.80" height="4.20" fill="#0c0c9c"/>
<text x="396.8" y="446" font-size="6.6" fill="#222" textLength="25" lengthAdjust="spacingAndGlyphs">Slc19a1</text>
<text x="93" y="307" font-size="6.0" fill="#2a2a2a" textLength="17.5" lengthAdjust="spacingAndGlyphs">[0–19]</text>
<text x="93" y="326.5" font-size="6.0" fill="#2a2a2a" textLength="17.5" lengthAdjust="spacingAndGlyphs">[0–19]</text>
<text x="93" y="346.8" font-size="6.0" fill="#2a2a2a" textLength="22.8" lengthAdjust="spacingAndGlyphs">[0–1.69]</text>
<text x="93" y="365.6" font-size="6.0" fill="#2a2a2a" textLength="22.8" lengthAdjust="spacingAndGlyphs">[0–1.69]</text>
<text x="93" y="386.8" font-size="6.0" fill="#2a2a2a" textLength="22.8" lengthAdjust="spacingAndGlyphs">[0–8.66]</text>
<text x="93" y="406.8" font-size="6.0" fill="#2a2a2a" textLength="22.8" lengthAdjust="spacingAndGlyphs">[0–8.66]</text>
<text x="291.3" y="307" font-size="6.0" fill="#2a2a2a" textLength="17.2" lengthAdjust="spacingAndGlyphs">[0–22]</text>
<text x="291.3" y="326.4" font-size="6.0" fill="#2a2a2a" textLength="17.2" lengthAdjust="spacingAndGlyphs">[0–22]</text>
<text x="291.3" y="346.8" font-size="6.0" fill="#2a2a2a" textLength="22.8" lengthAdjust="spacingAndGlyphs">[0–1.18]</text>
<text x="291.3" y="365.6" font-size="6.0" fill="#2a2a2a" textLength="22.8" lengthAdjust="spacingAndGlyphs">[0–1.18]</text>
<text x="291.3" y="386.8" font-size="6.0" fill="#2a2a2a" textLength="22.8" lengthAdjust="spacingAndGlyphs">[0–6.16]</text>
<text x="291.3" y="406.8" font-size="6.0" fill="#2a2a2a" textLength="22.8" lengthAdjust="spacingAndGlyphs">[0–6.16]</text>
<rect x="13.5" y="299.5" width="497.5" height="148.60000000000002" fill="none" stroke="#1c1c1c" stroke-width="1.2"/>
<line x1="13.5" y1="339.4" x2="511" y2="339.4" stroke="#1c1c1c" stroke-width="1.2"/>
<line x1="13.5" y1="379.3" x2="511" y2="379.3" stroke="#1c1c1c" stroke-width="1.2"/>
<line x1="13.5" y1="419.0" x2="511" y2="419.0" stroke="#1c1c1c" stroke-width="1.2"/>
<line x1="90.5" y1="299.5" x2="90.5" y2="448.1" stroke="#1c1c1c" stroke-width="1.2"/>
<line x1="288.3" y1="299.5" x2="288.3" y2="448.1" stroke="#1c1c1c" stroke-width="1.4"/>
<text x="18" y="310" font-size="8.6" font-weight="bold" fill="#111" textLength="42.8" lengthAdjust="spacingAndGlyphs">H3K4me3</text>
<text x="18" y="322" font-size="8.6" fill="#222" stroke="#222" stroke-width="0.22" textLength="40" lengthAdjust="spacingAndGlyphs">CUT&amp;Tag</text>
<text x="18" y="351.3" font-size="8.6" font-weight="bold" fill="#111" textLength="42.5" lengthAdjust="spacingAndGlyphs">H3K4me1</text>
<text x="18" y="363.3" font-size="8.6" fill="#222" stroke="#222" stroke-width="0.22" textLength="40" lengthAdjust="spacingAndGlyphs">CUT&amp;Tag</text>
<text x="18" y="392.5" font-size="8.6" font-weight="bold" fill="#111" textLength="41.5" lengthAdjust="spacingAndGlyphs">H3K27Ac</text>
<text x="18" y="404.3" font-size="8.6" fill="#222" stroke="#222" stroke-width="0.22" textLength="40" lengthAdjust="spacingAndGlyphs">CUT&amp;Tag</text>
<text x="18" y="430.8" font-size="9.1" font-weight="bold" fill="#c8102e" textLength="50.8" lengthAdjust="spacingAndGlyphs">MYC target</text>
<text x="18" y="443.3" font-size="8.6" fill="#c8102e" stroke="#c8102e" stroke-width="0.22" textLength="37" lengthAdjust="spacingAndGlyphs">ChIP seq</text>
<text x="440" y="312.5" font-size="8.8" fill="#2e6da4" stroke="#2e6da4" stroke-width="0.22" textLength="67.5" lengthAdjust="spacingAndGlyphs">SETBP1+CSF3R</text>
<text x="458.8" y="330" font-size="8.8" fill="#3fae49" stroke="#3fae49" stroke-width="0.22" textLength="48.7" lengthAdjust="spacingAndGlyphs">CSF3R only</text></g>
<g id="pE"><text x="7" y="464.6" font-size="10.5" font-weight="bold" fill="#000" textLength="6.4" lengthAdjust="spacingAndGlyphs">E</text>
<text x="137.5" y="469.3" font-size="8.8" font-weight="bold" fill="#111" textLength="121.3" lengthAdjust="spacingAndGlyphs">CUT&amp;Tag differential peaks</text>
<text x="77" y="547.5" font-size="8.8" font-weight="bold" fill="#111" textLength="242.3" lengthAdjust="spacingAndGlyphs">CUT&amp;Tag peaks intersected with Myc ChIP-seq targets</text>
<text x="77" y="623.8" font-size="8.8" font-weight="bold" fill="#111" textLength="243" lengthAdjust="spacingAndGlyphs">CUT&amp;Tag peaks intersected with Myb ChIP-seq targets</text>
<text x="13" y="479.3" font-size="8.1" font-weight="bold" fill="#111" textLength="39" lengthAdjust="spacingAndGlyphs">H3K4me3</text>
<text x="13" y="489.3" font-size="8.1" fill="#2a2a2a" stroke="#2a2a2a" stroke-width="0.22" textLength="36" lengthAdjust="spacingAndGlyphs">CUT&amp;Tag</text>
<text x="13" y="501.8" font-size="8.1" font-weight="bold" fill="#111" textLength="38.6" lengthAdjust="spacingAndGlyphs">H3K4me1</text>
<text x="13" y="511.3" font-size="8.1" fill="#2a2a2a" stroke="#2a2a2a" stroke-width="0.22" textLength="36" lengthAdjust="spacingAndGlyphs">CUT&amp;Tag</text>
<text x="13" y="525.5" font-size="8.1" font-weight="bold" fill="#111" textLength="37.2" lengthAdjust="spacingAndGlyphs">H3K27Ac</text>
<text x="13" y="535" font-size="8.1" fill="#2a2a2a" stroke="#2a2a2a" stroke-width="0.22" textLength="36" lengthAdjust="spacingAndGlyphs">CUT&amp;Tag</text>
<text x="13" y="558.8" font-size="8.1" font-weight="bold" fill="#111" textLength="39" lengthAdjust="spacingAndGlyphs">H3K4me3</text>
<text x="13" y="567.7" font-size="8.1" fill="#2a2a2a" stroke="#2a2a2a" stroke-width="0.22" textLength="36" lengthAdjust="spacingAndGlyphs">CUT&amp;Tag</text>
<text x="13" y="579.6" font-size="8.1" font-weight="bold" fill="#111" textLength="38.6" lengthAdjust="spacingAndGlyphs">H3K4me1</text>
<text x="13" y="589.5" font-size="8.1" fill="#2a2a2a" stroke="#2a2a2a" stroke-width="0.22" textLength="36" lengthAdjust="spacingAndGlyphs">CUT&amp;Tag</text>
<text x="13" y="602.7" font-size="8.1" font-weight="bold" fill="#111" textLength="37.2" lengthAdjust="spacingAndGlyphs">H3K27Ac</text>
<text x="13" y="612.5" font-size="8.1" fill="#2a2a2a" stroke="#2a2a2a" stroke-width="0.22" textLength="36" lengthAdjust="spacingAndGlyphs">CUT&amp;Tag</text>
<text x="13" y="633.1" font-size="8.1" font-weight="bold" fill="#111" textLength="39" lengthAdjust="spacingAndGlyphs">H3K4me3</text>
<text x="13" y="642.2" font-size="8.1" fill="#2a2a2a" stroke="#2a2a2a" stroke-width="0.22" textLength="36" lengthAdjust="spacingAndGlyphs">CUT&amp;Tag</text>
<text x="13" y="654" font-size="8.1" font-weight="bold" fill="#111" textLength="38.6" lengthAdjust="spacingAndGlyphs">H3K4me1</text>
<text x="13" y="663.5" font-size="8.1" fill="#2a2a2a" stroke="#2a2a2a" stroke-width="0.22" textLength="36" lengthAdjust="spacingAndGlyphs">CUT&amp;Tag</text>
<text x="13" y="677" font-size="8.1" font-weight="bold" fill="#111" textLength="37.2" lengthAdjust="spacingAndGlyphs">H3K27Ac</text>
<text x="13" y="686.3" font-size="8.1" fill="#2a2a2a" stroke="#2a2a2a" stroke-width="0.22" textLength="36" lengthAdjust="spacingAndGlyphs">CUT&amp;Tag</text>
<rect x="119.30" y="473.00" width="60.85" height="15.80" fill="#a00c46"/>
<rect x="180.00" y="473.00" width="0.75" height="15.80" fill="#d53e4f"/>
<rect x="180.60" y="473.00" width="0.75" height="15.80" fill="#f46d43"/>
<rect x="181.20" y="473.00" width="0.75" height="15.80" fill="#fdae61"/>
<rect x="181.80" y="473.00" width="0.95" height="15.80" fill="#fee08b"/>
<rect x="182.60" y="473.00" width="1.15" height="15.80" fill="#ffffbf"/>
<rect x="183.60" y="473.00" width="0.95" height="15.80" fill="#e6f598"/>
<rect x="184.40" y="473.00" width="2.75" height="15.80" fill="#abdda4"/>
<rect x="187.00" y="473.00" width="3.15" height="15.80" fill="#66c2a5"/>
<rect x="190.00" y="473.00" width="6.95" height="15.80" fill="#3288bd"/>
<rect x="203.20" y="473.00" width="1.95" height="15.80" fill="#3288bd"/>
<rect x="205.00" y="473.00" width="0.95" height="15.80" fill="#66c2a5"/>
<rect x="205.80" y="473.00" width="0.75" height="15.80" fill="#abdda4"/>
<rect x="206.40" y="473.00" width="0.75" height="15.80" fill="#e6f598"/>
<rect x="207.00" y="473.00" width="1.15" height="15.80" fill="#ffffbf"/>
<rect x="208.00" y="473.00" width="0.95" height="15.80" fill="#fee08b"/>
<rect x="208.80" y="473.00" width="0.75" height="15.80" fill="#fdae61"/>
<rect x="209.40" y="473.00" width="0.75" height="15.80" fill="#f46d43"/>
<rect x="210.00" y="473.00" width="0.95" height="15.80" fill="#d53e4f"/>
<rect x="210.80" y="473.00" width="41.35" height="15.80" fill="#a00c46"/>
<text x="142.5" y="484.3" font-size="7.3" fill="#fff" stroke="#fff" stroke-width="0.22" textLength="12" lengthAdjust="spacingAndGlyphs">982</text>
<text x="224.6" y="484.3" font-size="7.3" fill="#fff" stroke="#fff" stroke-width="0.22" textLength="12.2" lengthAdjust="spacingAndGlyphs">622</text>
<rect x="67.00" y="490.80" width="22.95" height="16.00" fill="#a00c46"/>
<rect x="89.80" y="490.80" width="5.45" height="16.00" fill="#d53e4f"/>
<rect x="95.10" y="490.80" width="5.65" height="16.00" fill="#f46d43"/>
<rect x="100.60" y="490.80" width="1.35" height="16.00" fill="#fdae61"/>
<rect x="101.80" y="490.80" width="6.65" height="16.00" fill="#fee08b"/>
<rect x="108.30" y="490.80" width="5.95" height="16.00" fill="#ffffbf"/>
<rect x="114.10" y="490.80" width="11.55" height="16.00" fill="#e6f598"/>
<rect x="125.50" y="490.80" width="11.65" height="16.00" fill="#abdda4"/>
<rect x="137.00" y="490.80" width="18.95" height="16.00" fill="#66c2a5"/>
<rect x="155.80" y="490.80" width="41.15" height="16.00" fill="#3288bd"/>
<rect x="203.20" y="490.80" width="38.25" height="16.00" fill="#3288bd"/>
<rect x="241.30" y="490.80" width="24.15" height="16.00" fill="#66c2a5"/>
<rect x="265.30" y="490.80" width="15.65" height="16.00" fill="#abdda4"/>
<rect x="280.80" y="490.80" width="11.35" height="16.00" fill="#e6f598"/>
<rect x="292.00" y="490.80" width="6.45" height="16.00" fill="#ffffbf"/>
<rect x="298.30" y="490.80" width="6.65" height="16.00" fill="#fee08b"/>
<rect x="304.80" y="490.80" width="1.15" height="16.00" fill="#fdae61"/>
<rect x="305.80" y="490.80" width="6.15" height="16.00" fill="#f46d43"/>
<rect x="311.80" y="490.80" width="6.35" height="16.00" fill="#d53e4f"/>
<rect x="318.00" y="490.80" width="28.95" height="16.00" fill="#a00c46"/>
<text x="70.6" y="501.8" font-size="7.3" fill="#fff" stroke="#fff" stroke-width="0.22" textLength="16.2" lengthAdjust="spacingAndGlyphs">1640</text>
<text x="324.3" y="501.8" font-size="7.3" fill="#fff" stroke="#fff" stroke-width="0.22" textLength="16.2" lengthAdjust="spacingAndGlyphs">1813</text>
<rect x="127.00" y="508.80" width="15.65" height="15.70" fill="#a00c46"/>
<rect x="142.50" y="508.80" width="2.05" height="15.70" fill="#d53e4f"/>
<rect x="144.40" y="508.80" width="1.75" height="15.70" fill="#f46d43"/>
<rect x="146.00" y="508.80" width="0.95" height="15.70" fill="#fdae61"/>
<rect x="146.80" y="508.80" width="0.95" height="15.70" fill="#fee08b"/>
<rect x="147.60" y="508.80" width="6.35" height="15.70" fill="#ffffbf"/>
<rect x="153.80" y="508.80" width="4.65" height="15.70" fill="#e6f598"/>
<rect x="158.30" y="508.80" width="6.85" height="15.70" fill="#abdda4"/>
<rect x="165.00" y="508.80" width="10.95" height="15.70" fill="#66c2a5"/>
<rect x="175.80" y="508.80" width="21.15" height="15.70" fill="#3288bd"/>
<rect x="203.20" y="508.80" width="7.75" height="15.70" fill="#3288bd"/>
<rect x="210.80" y="508.80" width="4.35" height="15.70" fill="#66c2a5"/>
<rect x="215.00" y="508.80" width="3.95" height="15.70" fill="#abdda4"/>
<rect x="218.80" y="508.80" width="3.15" height="15.70" fill="#e6f598"/>
<rect x="221.80" y="508.80" width="2.75" height="15.70" fill="#ffffbf"/>
<rect x="224.40" y="508.80" width="0.95" height="15.70" fill="#fee08b"/>
<rect x="225.20" y="508.80" width="0.75" height="15.70" fill="#fdae61"/>
<rect x="225.80" y="508.80" width="0.95" height="15.70" fill="#f46d43"/>
<rect x="226.60" y="508.80" width="1.05" height="15.70" fill="#d53e4f"/>
<rect x="227.50" y="508.80" width="42.65" height="15.70" fill="#a00c46"/>
<text x="129.3" y="519.5" font-size="7.3" fill="#fff" stroke="#fff" stroke-width="0.22" textLength="12" lengthAdjust="spacingAndGlyphs">878</text>
<text x="242.6" y="519.5" font-size="7.3" fill="#fff" stroke="#fff" stroke-width="0.22" textLength="12" lengthAdjust="spacingAndGlyphs">846</text>
<rect x="170.00" y="551.20" width="23.65" height="15.60" fill="#a00c46"/>
<rect x="193.50" y="551.20" width="0.45" height="15.60" fill="#d53e4f"/>
<rect x="193.80" y="551.20" width="0.45" height="15.60" fill="#f46d43"/>
<rect x="194.10" y="551.20" width="0.45" height="15.60" fill="#fee08b"/>
<rect x="194.40" y="551.20" width="0.55" height="15.60" fill="#ffffbf"/>
<rect x="194.80" y="551.20" width="0.45" height="15.60" fill="#e6f598"/>
<rect x="195.10" y="551.20" width="0.45" height="15.60" fill="#abdda4"/>
<rect x="195.40" y="551.20" width="0.65" height="15.60" fill="#66c2a5"/>
<rect x="195.90" y="551.20" width="1.05" height="15.60" fill="#3288bd"/>
<rect x="203.20" y="551.20" width="1.15" height="15.60" fill="#3288bd"/>
<rect x="204.20" y="551.20" width="0.55" height="15.60" fill="#66c2a5"/>
<rect x="204.60" y="551.20" width="0.55" height="15.60" fill="#e6f598"/>
<rect x="205.00" y="551.20" width="0.65" height="15.60" fill="#ffffbf"/>
<rect x="205.50" y="551.20" width="0.55" height="15.60" fill="#f46d43"/>
<rect x="205.90" y="551.20" width="29.75" height="15.60" fill="#a00c46"/>
<text x="175.8" y="562" font-size="7.3" fill="#fff" stroke="#fff" stroke-width="0.22" textLength="11.8" lengthAdjust="spacingAndGlyphs">340</text>
<text x="215.6" y="562" font-size="7.3" fill="#fff" stroke="#fff" stroke-width="0.22" textLength="11.8" lengthAdjust="spacingAndGlyphs">416</text>
<rect x="178.80" y="568.80" width="5.15" height="15.70" fill="#a00c46"/>
<rect x="183.80" y="568.80" width="0.95" height="15.70" fill="#d53e4f"/>
<rect x="184.60" y="568.80" width="0.95" height="15.70" fill="#f46d43"/>
<rect x="185.40" y="568.80" width="0.95" height="15.70" fill="#fdae61"/>
<rect x="186.20" y="568.80" width="0.95" height="15.70" fill="#fee08b"/>
<rect x="187.00" y="568.80" width="1.15" height="15.70" fill="#ffffbf"/>
<rect x="188.00" y="568.80" width="1.15" height="15.70" fill="#e6f598"/>
<rect x="189.00" y="568.80" width="1.75" height="15.70" fill="#abdda4"/>
<rect x="190.60" y="568.80" width="2.05" height="15.70" fill="#66c2a5"/>
<rect x="192.50" y="568.80" width="4.45" height="15.70" fill="#3288bd"/>
<rect x="203.20" y="568.80" width="5.75" height="15.70" fill="#3288bd"/>
<rect x="208.80" y="568.80" width="2.65" height="15.70" fill="#66c2a5"/>
<rect x="211.30" y="568.80" width="2.25" height="15.70" fill="#abdda4"/>
<rect x="213.40" y="568.80" width="1.35" height="15.70" fill="#e6f598"/>
<rect x="214.60" y="568.80" width="1.15" height="15.70" fill="#ffffbf"/>
<rect x="215.60" y="568.80" width="0.95" height="15.70" fill="#fee08b"/>
<rect x="216.40" y="568.80" width="0.85" height="15.70" fill="#fdae61"/>
<rect x="217.10" y="568.80" width="0.95" height="15.70" fill="#f46d43"/>
<rect x="217.90" y="568.80" width="1.05" height="15.70" fill="#d53e4f"/>
<rect x="218.80" y="568.80" width="8.35" height="15.70" fill="#a00c46"/>
<text x="164.3" y="579.3" font-size="7.8" fill="#111" stroke="#111" stroke-width="0.22" textLength="12.4" lengthAdjust="spacingAndGlyphs">230</text>
<text x="228.8" y="579.3" font-size="7.8" fill="#111" stroke="#111" stroke-width="0.22" textLength="12" lengthAdjust="spacingAndGlyphs">304</text>
<rect x="184.00" y="586.80" width="5.85" height="15.70" fill="#a00c46"/>
<rect x="189.70" y="586.80" width="0.55" height="15.70" fill="#d53e4f"/>
<rect x="190.10" y="586.80" width="0.55" height="15.70" fill="#f46d43"/>
<rect x="190.50" y="586.80" width="0.55" height="15.70" fill="#fee08b"/>
<rect x="190.90" y="586.80" width="0.75" height="15.70" fill="#ffffbf"/>
<rect x="191.50" y="586.80" width="0.65" height="15.70" fill="#e6f598"/>
<rect x="192.00" y="586.80" width="0.95" height="15.70" fill="#abdda4"/>
<rect x="192.80" y="586.80" width="1.05" height="15.70" fill="#66c2a5"/>
<rect x="193.70" y="586.80" width="3.25" height="15.70" fill="#3288bd"/>
<rect x="203.20" y="586.80" width="3.25" height="15.70" fill="#3288bd"/>
<rect x="206.30" y="586.80" width="0.85" height="15.70" fill="#66c2a5"/>
<rect x="207.00" y="586.80" width="0.65" height="15.70" fill="#abdda4"/>
<rect x="207.50" y="586.80" width="0.55" height="15.70" fill="#e6f598"/>
<rect x="207.90" y="586.80" width="0.55" height="15.70" fill="#ffffbf"/>
<rect x="208.30" y="586.80" width="0.45" height="15.70" fill="#fdae61"/>
<rect x="208.60" y="586.80" width="0.55" height="15.70" fill="#d53e4f"/>
<rect x="209.00" y="586.80" width="32.95" height="15.70" fill="#a00c46"/>
<text x="170.8" y="597" font-size="7.8" fill="#111" stroke="#111" stroke-width="0.22" textLength="11.2" lengthAdjust="spacingAndGlyphs">166</text>
<text x="218.8" y="597" font-size="7.3" fill="#fff" stroke="#fff" stroke-width="0.22" textLength="12.4" lengthAdjust="spacingAndGlyphs">488</text>
<rect x="185.00" y="630.00" width="9.65" height="15.50" fill="#a00c46"/>
<rect x="194.50" y="630.00" width="0.55" height="15.50" fill="#f46d43"/>
<rect x="194.90" y="630.00" width="0.55" height="15.50" fill="#ffffbf"/>
<rect x="195.30" y="630.00" width="0.55" height="15.50" fill="#abdda4"/>
<rect x="195.70" y="630.00" width="0.65" height="15.50" fill="#66c2a5"/>
<rect x="196.20" y="630.00" width="0.75" height="15.50" fill="#3288bd"/>
<rect x="203.20" y="630.00" width="0.75" height="15.50" fill="#3288bd"/>
<rect x="203.80" y="630.00" width="0.55" height="15.50" fill="#abdda4"/>
<rect x="204.20" y="630.00" width="0.55" height="15.50" fill="#ffffbf"/>
<rect x="204.60" y="630.00" width="8.55" height="15.50" fill="#a00c46"/>
<text x="171.8" y="640.5" font-size="7.8" fill="#111" stroke="#111" stroke-width="0.22" textLength="11.2" lengthAdjust="spacingAndGlyphs">144</text>
<text x="214.6" y="640.5" font-size="7.8" fill="#111" stroke="#111" stroke-width="0.22" textLength="11.2" lengthAdjust="spacingAndGlyphs">123</text>
<rect x="188.00" y="647.50" width="2.65" height="15.80" fill="#a00c46"/>
<rect x="190.50" y="647.50" width="0.55" height="15.80" fill="#f46d43"/>
<rect x="190.90" y="647.50" width="0.55" height="15.80" fill="#fee08b"/>
<rect x="191.30" y="647.50" width="0.85" height="15.80" fill="#ffffbf"/>
<rect x="192.00" y="647.50" width="0.75" height="15.80" fill="#e6f598"/>
<rect x="192.60" y="647.50" width="0.85" height="15.80" fill="#abdda4"/>
<rect x="193.30" y="647.50" width="1.35" height="15.80" fill="#66c2a5"/>
<rect x="194.50" y="647.50" width="2.45" height="15.80" fill="#3288bd"/>
<rect x="203.20" y="647.50" width="4.45" height="15.80" fill="#3288bd"/>
<rect x="207.50" y="647.50" width="2.65" height="15.80" fill="#66c2a5"/>
<rect x="210.00" y="647.50" width="1.45" height="15.80" fill="#abdda4"/>
<rect x="211.30" y="647.50" width="1.15" height="15.80" fill="#e6f598"/>
<rect x="212.30" y="647.50" width="0.85" height="15.80" fill="#ffffbf"/>
<rect x="213.00" y="647.50" width="0.95" height="15.80" fill="#fee08b"/>
<rect x="213.80" y="647.50" width="0.85" height="15.80" fill="#fdae61"/>
<rect x="214.50" y="647.50" width="0.65" height="15.80" fill="#f46d43"/>
<rect x="215.00" y="647.50" width="0.75" height="15.80" fill="#d53e4f"/>
<rect x="215.60" y="647.50" width="6.35" height="15.80" fill="#a00c46"/>
<text x="174.6" y="657.5" font-size="7.8" fill="#111" stroke="#111" stroke-width="0.22" textLength="11.2" lengthAdjust="spacingAndGlyphs">102</text>
<text x="223.8" y="657.5" font-size="7.8" fill="#111" stroke="#111" stroke-width="0.22" textLength="12" lengthAdjust="spacingAndGlyphs">240</text>
<rect x="190.50" y="665.50" width="2.85" height="16.30" fill="#a00c46"/>
<rect x="193.20" y="665.50" width="0.45" height="16.30" fill="#f46d43"/>
<rect x="193.50" y="665.50" width="0.55" height="16.30" fill="#fee08b"/>
<rect x="193.90" y="665.50" width="0.55" height="16.30" fill="#ffffbf"/>
<rect x="194.30" y="665.50" width="0.55" height="16.30" fill="#abdda4"/>
<rect x="194.70" y="665.50" width="0.95" height="16.30" fill="#66c2a5"/>
<rect x="195.50" y="665.50" width="1.45" height="16.30" fill="#3288bd"/>
<rect x="203.20" y="665.50" width="1.95" height="16.30" fill="#3288bd"/>
<rect x="205.00" y="665.50" width="0.85" height="16.30" fill="#66c2a5"/>
<rect x="205.70" y="665.50" width="0.65" height="16.30" fill="#abdda4"/>
<rect x="206.20" y="665.50" width="0.65" height="16.30" fill="#ffffbf"/>
<rect x="206.70" y="665.50" width="0.55" height="16.30" fill="#fdae61"/>
<rect x="207.10" y="665.50" width="0.55" height="16.30" fill="#d53e4f"/>
<rect x="207.50" y="665.50" width="13.45" height="16.30" fill="#a00c46"/>
<text x="179.6" y="677" font-size="7.8" fill="#111" stroke="#111" stroke-width="0.22" textLength="7.5" lengthAdjust="spacingAndGlyphs">72</text>
<text x="209.3" y="677" font-size="7.3" fill="#fff" stroke="#fff" stroke-width="0.22" textLength="10.8" lengthAdjust="spacingAndGlyphs">227</text>
<line x1="55.5" y1="683.3" x2="364" y2="683.3" stroke="#000" stroke-width="0.8"/>
<text x="70.8" y="692" font-size="7.6" fill="#111" stroke="#111" stroke-width="0.22" textLength="16.2" lengthAdjust="spacingAndGlyphs">1500</text>
<text x="111.9" y="692" font-size="7.6" fill="#111" stroke="#111" stroke-width="0.22" textLength="15.8" lengthAdjust="spacingAndGlyphs">1000</text>
<text x="151.3" y="692" font-size="7.6" fill="#111" stroke="#111" stroke-width="0.22" textLength="12.4" lengthAdjust="spacingAndGlyphs">500</text>
<text x="193.8" y="692" font-size="7.6" fill="#111" stroke="#111" stroke-width="0.22" textLength="4.4" lengthAdjust="spacingAndGlyphs">0</text>
<text x="202.5" y="692" font-size="7.6" fill="#111" stroke="#111" stroke-width="0.22" textLength="4.4" lengthAdjust="spacingAndGlyphs">0</text>
<text x="239.3" y="692" font-size="7.6" fill="#111" stroke="#111" stroke-width="0.22" textLength="12.4" lengthAdjust="spacingAndGlyphs">500</text>
<text x="275" y="692" font-size="7.6" fill="#111" stroke="#111" stroke-width="0.22" textLength="16.2" lengthAdjust="spacingAndGlyphs">1000</text>
<text x="313.3" y="692" font-size="7.6" fill="#111" stroke="#111" stroke-width="0.22" textLength="16.6" lengthAdjust="spacingAndGlyphs">1500</text>
<text x="355.8" y="692" font-size="7.6" fill="#111" stroke="#111" stroke-width="0.22" textLength="17" lengthAdjust="spacingAndGlyphs">2000</text>
<text x="91.8" y="705" font-size="8.8" fill="#111" stroke="#111" stroke-width="0.22" textLength="79.5" lengthAdjust="spacingAndGlyphs">Down with SETBP1</text>
<text x="235" y="705" font-size="8.8" fill="#111" stroke="#111" stroke-width="0.22" textLength="68" lengthAdjust="spacingAndGlyphs">Up with SETBP1</text>
<text x="393" y="512" font-size="8" fill="#111" stroke="#111" stroke-width="0.22" textLength="28.8" lengthAdjust="spacingAndGlyphs">Feature</text>
<rect x="393.00" y="516.80" width="10.00" height="9.64" fill="#a00c46"/>
<text x="405.8" y="524.1" font-size="7" fill="#111" stroke="#111" stroke-width="0.22" textLength="54.2" lengthAdjust="spacingAndGlyphs">Promoter (≤1kb)</text>
<rect x="393.00" y="526.94" width="10.00" height="9.64" fill="#d53e4f"/>
<text x="405.8" y="534.3000000000001" font-size="7" fill="#111" stroke="#111" stroke-width="0.22" textLength="58" lengthAdjust="spacingAndGlyphs">Promoter (1–2kb)</text>
<rect x="393.00" y="537.08" width="10.00" height="9.64" fill="#f46d43"/>
<text x="405.8" y="544.5" font-size="7" fill="#111" stroke="#111" stroke-width="0.22" textLength="58" lengthAdjust="spacingAndGlyphs">Promoter (2–3kb)</text>
<rect x="393.00" y="547.22" width="10.00" height="9.64" fill="#fdae61"/>
<text x="405.8" y="554.7" font-size="7" fill="#111" stroke="#111" stroke-width="0.22" textLength="22.2" lengthAdjust="spacingAndGlyphs">5′ UTR</text>
<rect x="393.00" y="557.36" width="10.00" height="9.64" fill="#fee08b"/>
<text x="405.8" y="564.9" font-size="7" fill="#111" stroke="#111" stroke-width="0.22" textLength="22.2" lengthAdjust="spacingAndGlyphs">3′ UTR</text>
<rect x="393.00" y="567.50" width="10.00" height="9.64" fill="#ffffbf"/>
<text x="405.8" y="575.1" font-size="7" fill="#111" stroke="#111" stroke-width="0.22" textLength="28.5" lengthAdjust="spacingAndGlyphs">1st exon</text>
<rect x="393.00" y="577.64" width="10.00" height="9.64" fill="#e6f598"/>
<text x="405.8" y="585.3000000000001" font-size="7" fill="#111" stroke="#111" stroke-width="0.22" textLength="38" lengthAdjust="spacingAndGlyphs">Other exon</text>
<rect x="393.00" y="587.78" width="10.00" height="9.64" fill="#abdda4"/>
<text x="405.8" y="595.5" font-size="7" fill="#111" stroke="#111" stroke-width="0.22" textLength="31.2" lengthAdjust="spacingAndGlyphs">1st intron</text>
<rect x="393.00" y="597.92" width="10.00" height="9.64" fill="#66c2a5"/>
<text x="405.8" y="605.7" font-size="7" fill="#111" stroke="#111" stroke-width="0.22" textLength="41" lengthAdjust="spacingAndGlyphs">Other intron</text>
<rect x="393.00" y="608.06" width="10.00" height="9.64" fill="#3288bd"/>
<text x="405.8" y="615.9" font-size="7" fill="#111" stroke="#111" stroke-width="0.22" textLength="53.7" lengthAdjust="spacingAndGlyphs">Distal intergenic</text>
<rect x="393.00" y="618.20" width="10.00" height="9.64" fill="#5e4fa2"/>
<text x="405.8" y="626.1" font-size="7" fill="#111" stroke="#111" stroke-width="0.22" textLength="64.7" lengthAdjust="spacingAndGlyphs">Downstream (≤300)</text></g>
<path d="M0.5,0.5 H519.5 V711.5 H0.5 Z" fill="none" stroke="#000" stroke-width="1.1"/>
</svg>
</body></html>
